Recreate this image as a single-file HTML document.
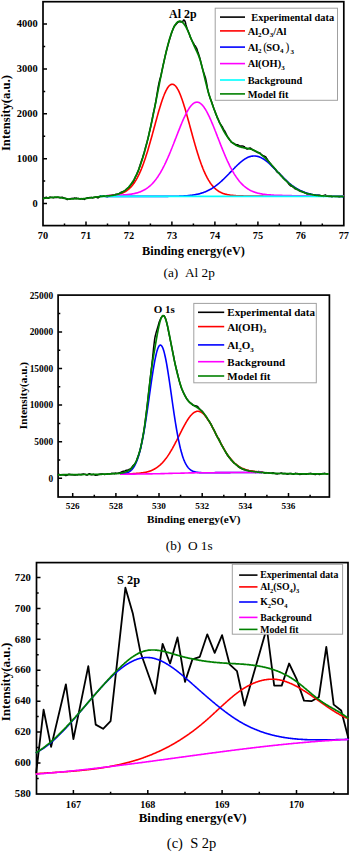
<!DOCTYPE html>
<html><head><meta charset="utf-8"><style>
html,body{margin:0;padding:0;background:#fff;}
body{width:350px;height:853px;overflow:hidden;font-family:"Liberation Serif",serif;}
svg{display:block;}
</style></head><body>
<svg width="350" height="853" viewBox="0 0 350 853">
<rect width="350" height="853" fill="#fff"/>
<g>
<rect x="43.0" y="1.7" width="300.8" height="223.9" fill="none" stroke="#000" stroke-width="1.7"/>
<path d="M43.5 198.4L44.0 198.2L44.5 198.1L45.0 197.6L45.5 197.6L46.0 197.5L46.5 197.3L47.0 198.0L47.5 198.0L48.0 198.2L48.5 198.2L49.0 198.1L49.5 197.3L50.0 197.1L50.5 197.2L51.0 197.2L51.5 197.4L52.0 197.5L52.5 197.6L53.0 197.7L53.5 197.8L54.0 197.5L54.5 197.5L55.0 197.5L55.5 197.5L56.0 197.4L56.5 197.4L57.0 197.5L57.5 197.4L58.0 197.1L58.5 197.4L59.0 197.6L59.5 197.5L60.0 197.9L60.5 197.5L61.0 197.6L61.5 197.4L62.0 197.2L62.5 197.2L63.0 198.0L63.5 197.8L64.0 197.9L64.5 198.3L65.0 198.3L65.5 198.5L66.0 198.8L66.5 199.1L67.0 199.4L67.5 199.5L68.0 199.2L68.5 199.2L69.0 199.3L69.5 199.0L70.0 198.9L70.5 199.1L71.0 198.5L71.5 198.5L72.0 198.6L72.5 198.4L73.0 198.3L73.5 198.5L74.0 198.5L74.5 198.0L75.0 198.1L75.5 198.3L76.0 198.7L76.5 198.1L77.0 198.4L77.5 198.6L78.0 198.4L78.5 198.5L79.0 198.7L79.5 198.8L80.0 198.6L80.5 199.0L81.0 198.7L81.5 198.8L82.0 198.5L82.5 199.0L83.0 198.8L83.5 198.9L84.0 199.1L84.5 199.4L85.0 199.0L85.5 198.6L86.0 198.3L86.5 198.2L87.0 197.9L87.5 197.8L88.0 197.8L88.5 197.9L89.0 197.7L89.5 197.7L90.0 197.4L90.5 197.4L91.0 197.5L91.5 197.5L92.0 197.7L92.5 197.9L93.0 197.9L93.5 197.5L94.0 197.5L94.5 197.2L95.0 197.2L95.5 197.1L96.0 197.1L96.5 197.0L97.0 197.5L97.5 197.7L98.0 197.9L98.5 197.4L99.0 197.3L99.5 196.7L100.0 196.4L100.5 195.7L101.0 196.2L101.5 196.4L102.0 196.3L102.5 195.9L103.0 196.1L103.5 195.9L104.0 195.8L104.5 196.3L105.0 196.4L105.5 196.6L106.0 196.6L106.5 196.7L107.0 196.6L107.5 196.8L108.0 196.4L108.5 196.3L109.0 195.8L109.5 195.9L110.0 195.7L110.5 195.8L111.0 195.7L111.5 195.9L112.0 195.4L112.5 195.0L113.0 195.1L113.5 195.5L114.0 195.3L114.5 195.2L115.0 195.1L115.5 194.6L116.0 194.2L116.5 194.2L117.0 194.2L117.5 194.3L118.0 194.4L118.5 194.2L119.0 193.6L119.5 193.3L120.0 193.0L120.5 192.7L121.0 192.3L121.5 192.2L122.0 192.0L122.5 191.8L123.0 191.6L123.5 191.3L124.0 191.3L124.5 191.1L125.0 190.9L125.5 190.2L126.0 190.0L126.5 189.3L127.0 188.8L127.5 188.2L128.0 188.2L128.5 187.7L129.0 187.3L129.5 187.0L130.0 186.2L130.5 185.3L131.0 184.6L131.5 183.8L132.0 183.2L132.5 182.6L133.0 182.3L133.5 181.3L134.0 180.4L134.5 179.2L135.0 178.2L135.5 176.7L136.0 175.8L136.5 174.8L137.0 173.9L137.5 172.5L138.0 171.7L138.5 170.2L139.0 168.8L139.5 167.0L140.0 165.5L140.5 163.8L141.0 162.4L141.5 160.8L142.0 159.2L142.5 157.9L143.0 156.2L143.5 154.5L144.0 152.9L144.5 151.1L145.0 149.4L145.5 147.4L146.0 145.8L146.5 144.0L147.0 142.6L147.5 140.4L148.0 138.5L148.5 136.4L149.0 134.1L149.5 131.7L150.0 129.5L150.5 127.4L151.0 125.0L151.5 122.7L152.0 120.3L152.5 117.5L153.0 115.1L153.5 112.5L154.0 110.4L154.5 108.2L155.0 105.7L155.5 103.1L156.0 100.5L156.5 97.2L157.0 94.0L157.5 91.2L158.0 88.0L158.5 85.3L159.0 83.0L159.5 80.8L160.0 78.7L160.5 77.2L161.0 75.2L161.5 72.9L162.0 70.4L162.5 68.3L163.0 65.7L163.5 63.6L164.0 61.5L164.5 59.2L165.0 56.8L165.5 54.7L166.0 52.7L166.5 50.5L167.0 48.7L167.5 46.9L168.0 45.0L168.5 43.1L169.0 41.3L169.5 39.7L170.0 38.0L170.5 36.5L171.0 34.4L171.5 33.3L172.0 31.8L172.5 30.5L173.0 29.0L173.5 28.0L174.0 26.7L174.5 26.0L175.0 25.3L175.5 24.9L176.0 24.4L176.5 23.7L177.0 23.2L177.5 22.7L178.0 22.1L178.5 21.9L179.0 21.9L179.5 21.7L180.0 21.5L180.5 21.7L181.0 22.0L181.5 21.7L182.0 21.6L182.5 21.4L183.0 21.1L183.5 20.0L184.0 20.0L184.5 20.5L185.0 21.3L185.5 22.8L186.0 25.0L186.5 26.6L187.0 28.2L187.5 29.6L188.0 30.6L188.5 32.1L189.0 33.2L189.5 34.7L190.0 36.2L190.5 37.7L191.0 38.6L191.5 39.6L192.0 40.4L192.5 41.6L193.0 42.4L193.5 43.1L194.0 44.5L194.5 45.3L195.0 45.6L195.5 46.3L196.0 47.4L196.5 48.0L197.0 49.3L197.5 51.0L198.0 52.6L198.5 53.8L199.0 55.4L199.5 57.0L200.0 58.7L200.5 60.6L201.0 62.8L201.5 64.9L202.0 66.9L202.5 68.6L203.0 70.4L203.5 71.9L204.0 73.5L204.5 75.0L205.0 76.5L205.5 78.0L206.0 80.3L206.5 82.7L207.0 85.6L207.5 88.4L208.0 90.7L208.5 92.9L209.0 94.9L209.5 96.0L210.0 97.7L210.5 99.2L211.0 100.1L211.5 101.6L212.0 103.1L212.5 104.5L213.0 105.9L213.5 107.6L214.0 109.1L214.5 110.3L215.0 111.4L215.5 113.1L216.0 114.6L216.5 115.5L217.0 116.9L217.5 118.2L218.0 118.9L218.5 120.1L219.0 121.3L219.5 122.7L220.0 123.4L220.5 124.2L221.0 125.1L221.5 125.7L222.0 126.2L222.5 127.1L223.0 128.4L223.5 129.1L224.0 130.2L224.5 130.7L225.0 131.6L225.5 132.7L226.0 133.7L226.5 134.6L227.0 135.7L227.5 136.8L228.0 137.3L228.5 137.9L229.0 138.8L229.5 139.7L230.0 140.3L230.5 140.7L231.0 141.8L231.5 142.2L232.0 142.6L232.5 142.7L233.0 143.2L233.5 143.3L234.0 143.4L234.5 143.8L235.0 144.2L235.5 144.6L236.0 144.8L236.5 145.0L237.0 144.6L237.5 144.8L238.0 145.0L238.5 145.2L239.0 145.6L239.5 146.1L240.0 146.2L240.5 146.0L241.0 146.2L241.5 146.1L242.0 146.1L242.5 145.9L243.0 146.1L243.5 146.3L244.0 146.6L244.5 146.8L245.0 147.7L245.5 148.3L246.0 148.4L246.5 148.7L247.0 149.1L247.5 149.0L248.0 148.8L248.5 148.4L249.0 148.4L249.5 148.1L250.0 148.4L250.5 148.1L251.0 148.7L251.5 149.0L252.0 149.3L252.5 149.4L253.0 150.2L253.5 150.5L254.0 150.4L254.5 150.7L255.0 151.0L255.5 151.4L256.0 151.5L256.5 151.9L257.0 152.2L257.5 152.5L258.0 152.4L258.5 152.5L259.0 152.8L259.5 152.9L260.0 153.0L260.5 153.6L261.0 154.3L261.5 154.4L262.0 155.2L262.5 155.3L263.0 155.8L263.5 155.7L264.0 156.0L264.5 156.2L265.0 156.6L265.5 156.7L266.0 157.3L266.5 158.2L267.0 158.8L267.5 159.6L268.0 160.7L268.5 161.4L269.0 161.9L269.5 162.4L270.0 163.2L270.5 163.8L271.0 164.7L271.5 165.3L272.0 166.0L272.5 166.5L273.0 166.8L273.5 167.3L274.0 168.0L274.5 168.5L275.0 168.9L275.5 169.5L276.0 170.3L276.5 171.2L277.0 171.8L277.5 172.4L278.0 172.6L278.5 172.9L279.0 173.0L279.5 173.4L280.0 174.1L280.5 174.8L281.0 175.2L281.5 175.8L282.0 176.3L282.5 176.9L283.0 177.9L283.5 178.2L284.0 178.4L284.5 179.2L285.0 179.6L285.5 179.6L286.0 180.3L286.5 181.0L287.0 181.4L287.5 182.0L288.0 182.7L288.5 183.5L289.0 184.2L289.5 184.8L290.0 185.3L290.5 185.8L291.0 186.0L291.5 186.0L292.0 186.4L292.5 186.6L293.0 187.0L293.5 187.2L294.0 187.9L294.5 188.1L295.0 188.8L295.5 188.8L296.0 189.1L296.5 189.3L297.0 189.5L297.5 189.5L298.0 189.7L298.5 190.1L299.0 190.6L299.5 190.9L300.0 191.1L300.5 191.3L301.0 191.6L301.5 191.3L302.0 191.5L302.5 191.6L303.0 192.0L303.5 192.0L304.0 192.4L304.5 192.5L305.0 192.8L305.5 193.1L306.0 193.3L306.5 193.6L307.0 194.0L307.5 193.9L308.0 193.7L308.5 193.7L309.0 193.8L309.5 193.9L310.0 193.9L310.5 194.3L311.0 194.8L311.5 194.8L312.0 194.9L312.5 195.3L313.0 195.3L313.5 194.8L314.0 195.3L314.5 195.2L315.0 195.4L315.5 195.4L316.0 195.6L316.5 195.4L317.0 195.7L317.5 195.4L318.0 195.3L318.5 195.4L319.0 195.1L319.5 195.3L320.0 195.6L320.5 195.7L321.0 196.0L321.5 196.2L322.0 196.0L322.5 196.2L323.0 196.4L323.5 195.8L324.0 195.4L324.5 195.3L325.0 195.2L325.5 195.0L326.0 195.3L326.5 196.1L327.0 196.1L327.5 196.0L328.0 196.2L328.5 196.4L329.0 196.4L329.5 196.4L330.0 196.5L330.5 196.3L331.0 196.4L331.5 196.8L332.0 196.8L332.5 196.4L333.0 196.4L333.5 196.2L334.0 195.9L334.5 196.3L335.0 196.5L335.5 196.5L336.0 196.6L336.5 196.3L337.0 196.3L337.5 196.4L338.0 196.7L338.5 196.6L339.0 196.9L339.5 196.9L340.0 196.7L340.5 196.6L341.0 196.5L341.5 196.4L342.0 196.5L342.5 196.7L343.0 196.6L343.5 196.6" fill="none" stroke="#000" stroke-width="1.5" stroke-linejoin="round" stroke-linecap="round"/>
<path d="M107.0 195.8L107.5 195.7L108.0 195.7L108.5 195.7L109.0 195.6L109.5 195.6L110.0 195.6L110.5 195.5L111.0 195.5L111.5 195.4L112.0 195.4L112.5 195.3L113.0 195.3L113.5 195.2L114.0 195.2L114.5 195.1L115.0 195.0L115.5 194.9L116.0 194.8L116.5 194.8L117.0 194.7L117.5 194.5L118.0 194.4L118.5 194.3L119.0 194.2L119.5 194.0L120.0 193.9L120.5 193.7L121.0 193.6L121.5 193.4L122.0 193.2L122.5 193.0L123.0 192.8L123.5 192.5L124.0 192.3L124.5 192.0L125.0 191.8L125.5 191.5L126.0 191.2L126.5 190.8L127.0 190.5L127.5 190.1L128.0 189.7L128.5 189.3L129.0 188.9L129.5 188.4L130.0 188.0L130.5 187.5L131.0 186.9L131.5 186.4L132.0 185.8L132.5 185.2L133.0 184.6L133.5 183.9L134.0 183.2L134.5 182.5L135.0 181.7L135.5 180.9L136.0 180.1L136.5 179.2L137.0 178.3L137.5 177.4L138.0 176.4L138.5 175.4L139.0 174.4L139.5 173.3L140.0 172.2L140.5 171.1L141.0 169.9L141.5 168.7L142.0 167.4L142.5 166.1L143.0 164.8L143.5 163.5L144.0 162.1L144.5 160.6L145.0 159.2L145.5 157.7L146.0 156.1L146.5 154.6L147.0 153.0L147.5 151.4L148.0 149.7L148.5 148.0L149.0 146.3L149.5 144.6L150.0 142.8L150.5 141.1L151.0 139.3L151.5 137.5L152.0 135.7L152.5 133.9L153.0 132.0L153.5 130.2L154.0 128.3L154.5 126.5L155.0 124.7L155.5 122.8L156.0 121.0L156.5 119.2L157.0 117.4L157.5 115.6L158.0 113.8L158.5 112.1L159.0 110.3L159.5 108.7L160.0 107.0L160.5 105.4L161.0 103.8L161.5 102.2L162.0 100.7L162.5 99.3L163.0 97.9L163.5 96.5L164.0 95.3L164.5 94.0L165.0 92.9L165.5 91.8L166.0 90.7L166.5 89.8L167.0 88.9L167.5 88.0L168.0 87.3L168.5 86.6L169.0 86.0L169.5 85.5L170.0 85.1L170.5 84.8L171.0 84.5L171.5 84.4L172.0 84.3L172.5 84.3L173.0 84.4L173.5 84.5L174.0 84.8L174.5 85.1L175.0 85.5L175.5 86.0L176.0 86.6L176.5 87.3L177.0 88.0L177.5 88.9L178.0 89.7L178.5 90.7L179.0 91.7L179.5 92.8L180.0 94.0L180.5 95.2L181.0 96.5L181.5 97.9L182.0 99.3L182.5 100.7L183.0 102.2L183.5 103.8L184.0 105.4L184.5 107.0L185.0 108.6L185.5 110.3L186.0 112.0L186.5 113.8L187.0 115.6L187.5 117.4L188.0 119.2L188.5 121.0L189.0 122.8L189.5 124.6L190.0 126.5L190.5 128.3L191.0 130.2L191.5 132.0L192.0 133.8L192.5 135.7L193.0 137.5L193.5 139.3L194.0 141.1L194.5 142.8L195.0 144.6L195.5 146.3L196.0 148.0L196.5 149.7L197.0 151.3L197.5 153.0L198.0 154.6L198.5 156.1L199.0 157.7L199.5 159.2L200.0 160.6L200.5 162.0L201.0 163.4L201.5 164.8L202.0 166.1L202.5 167.4L203.0 168.7L203.5 169.9L204.0 171.1L204.5 172.2L205.0 173.3L205.5 174.4L206.0 175.4L206.5 176.4L207.0 177.4L207.5 178.3L208.0 179.2L208.5 180.1L209.0 180.9L209.5 181.7L210.0 182.5L210.5 183.2L211.0 183.9L211.5 184.5L212.0 185.2L212.5 185.8L213.0 186.4L213.5 186.9L214.0 187.5L214.5 188.0L215.0 188.4L215.5 188.9L216.0 189.3L216.5 189.7L217.0 190.1L217.5 190.5L218.0 190.8L218.5 191.2L219.0 191.5L219.5 191.8L220.0 192.0L220.5 192.3L221.0 192.5L221.5 192.8L222.0 193.0L222.5 193.2L223.0 193.4L223.5 193.6L224.0 193.7L224.5 193.9L225.0 194.0L225.5 194.2L226.0 194.3L226.5 194.4L227.0 194.5L227.5 194.7L228.0 194.8L228.5 194.8L229.0 194.9L229.5 195.0L230.0 195.1L230.5 195.2L231.0 195.2L231.5 195.3L232.0 195.3L232.5 195.4L233.0 195.4L233.5 195.5L234.0 195.5L234.5 195.6L235.0 195.6L235.5 195.6L236.0 195.7L236.5 195.7L237.0 195.7L237.5 195.8L238.0 195.8L238.5 195.8L239.0 195.8L239.5 195.8L240.0 195.9L240.5 195.9L241.0 195.9L241.5 195.9L242.0 195.9L242.5 195.9L243.0 195.9L243.5 196.0L244.0 196.0L244.5 196.0L245.0 196.0L245.5 196.0L246.0 196.0L246.5 196.0L247.0 196.0L247.5 196.0L248.0 196.0L248.5 196.0L249.0 196.0L249.5 196.0L250.0 196.1L250.5 196.1L251.0 196.1L251.5 196.1L252.0 196.1L252.5 196.1L253.0 196.1L253.5 196.1L254.0 196.1L254.5 196.1L255.0 196.1L255.5 196.1L256.0 196.1L256.5 196.1L257.0 196.1L257.5 196.1L258.0 196.1L258.5 196.1L259.0 196.1L259.5 196.1L260.0 196.1L260.5 196.1L261.0 196.1L261.5 196.1L262.0 196.1L262.5 196.1L263.0 196.1L263.5 196.2L264.0 196.2L264.5 196.2L265.0 196.2L265.5 196.2L266.0 196.2L266.5 196.2L267.0 196.2L267.5 196.2L268.0 196.2L268.5 196.2L269.0 196.2L269.5 196.2L270.0 196.2L270.5 196.2L271.0 196.2L271.5 196.2L272.0 196.2L272.5 196.2L273.0 196.2L273.5 196.2L274.0 196.2L274.5 196.2L275.0 196.2L275.5 196.2L276.0 196.2L276.5 196.2L277.0 196.2L277.5 196.2L278.0 196.2L278.5 196.2L279.0 196.2L279.5 196.2L280.0 196.2L280.5 196.2L281.0 196.2L281.5 196.2L282.0 196.2L282.5 196.2L283.0 196.2L283.5 196.2L284.0 196.2L284.5 196.2L285.0 196.2L285.5 196.2L286.0 196.2L286.5 196.2L287.0 196.2L287.5 196.2L288.0 196.2L288.5 196.2L289.0 196.2L289.5 196.2L290.0 196.2L290.5 196.2L291.0 196.2L291.5 196.3L292.0 196.3L292.5 196.3L293.0 196.3L293.5 196.3L294.0 196.3L294.5 196.3L295.0 196.3L295.5 196.3L296.0 196.3L296.5 196.3L297.0 196.3L297.5 196.3L298.0 196.3L298.5 196.3L299.0 196.3L299.5 196.3L300.0 196.3L300.5 196.3L301.0 196.3L301.5 196.3L302.0 196.3L302.5 196.3L303.0 196.3L303.5 196.3L304.0 196.3L304.5 196.3L305.0 196.3L305.5 196.3L306.0 196.3L306.5 196.3L307.0 196.3L307.5 196.3L308.0 196.3L308.5 196.3L309.0 196.3L309.5 196.3L310.0 196.3L310.5 196.3L311.0 196.3L311.5 196.3L312.0 196.3L312.5 196.3L313.0 196.3L313.5 196.3L314.0 196.3L314.5 196.3L315.0 196.3L315.5 196.3L316.0 196.3L316.5 196.3L317.0 196.3L317.5 196.3L318.0 196.3L318.5 196.3L319.0 196.3L319.5 196.3L320.0 196.3L320.5 196.3L321.0 196.3L321.5 196.3L322.0 196.3L322.5 196.3L323.0 196.3L323.5 196.3L324.0 196.3L324.5 196.3L325.0 196.3L325.5 196.3L326.0 196.3L326.5 196.3L327.0 196.3L327.5 196.3L328.0 196.3L328.5 196.3L329.0 196.3L329.5 196.3L330.0 196.3L330.5 196.3L331.0 196.3L331.5 196.3L332.0 196.3L332.5 196.3L333.0 196.3L333.5 196.3L334.0 196.3L334.5 196.3L335.0 196.3L335.5 196.3L336.0 196.3L336.5 196.3L337.0 196.3L337.5 196.3L338.0 196.3L338.5 196.3L339.0 196.3L339.5 196.3L340.0 196.3L340.5 196.3L341.0 196.3L341.5 196.3L342.0 196.3L342.5 196.3L343.0 196.3L343.5 196.3" fill="none" stroke="#ff0000" stroke-width="1.6" stroke-linejoin="round" stroke-linecap="round"/>
<path d="M107.0 196.4L107.5 196.4L108.0 196.4L108.5 196.4L109.0 196.4L109.5 196.4L110.0 196.4L110.5 196.4L111.0 196.4L111.5 196.4L112.0 196.4L112.5 196.4L113.0 196.4L113.5 196.4L114.0 196.4L114.5 196.4L115.0 196.4L115.5 196.4L116.0 196.4L116.5 196.4L117.0 196.4L117.5 196.4L118.0 196.4L118.5 196.4L119.0 196.4L119.5 196.4L120.0 196.4L120.5 196.4L121.0 196.4L121.5 196.4L122.0 196.4L122.5 196.4L123.0 196.4L123.5 196.4L124.0 196.4L124.5 196.4L125.0 196.4L125.5 196.4L126.0 196.4L126.5 196.4L127.0 196.4L127.5 196.4L128.0 196.4L128.5 196.4L129.0 196.4L129.5 196.4L130.0 196.4L130.5 196.4L131.0 196.4L131.5 196.4L132.0 196.4L132.5 196.4L133.0 196.4L133.5 196.4L134.0 196.4L134.5 196.4L135.0 196.4L135.5 196.4L136.0 196.4L136.5 196.4L137.0 196.4L137.5 196.4L138.0 196.4L138.5 196.4L139.0 196.4L139.5 196.4L140.0 196.4L140.5 196.4L141.0 196.4L141.5 196.4L142.0 196.4L142.5 196.4L143.0 196.4L143.5 196.4L144.0 196.4L144.5 196.4L145.0 196.4L145.5 196.4L146.0 196.4L146.5 196.4L147.0 196.4L147.5 196.4L148.0 196.4L148.5 196.4L149.0 196.4L149.5 196.4L150.0 196.4L150.5 196.4L151.0 196.4L151.5 196.4L152.0 196.4L152.5 196.4L153.0 196.4L153.5 196.4L154.0 196.4L154.5 196.4L155.0 196.4L155.5 196.4L156.0 196.4L156.5 196.4L157.0 196.4L157.5 196.4L158.0 196.4L158.5 196.4L159.0 196.4L159.5 196.4L160.0 196.4L160.5 196.4L161.0 196.4L161.5 196.4L162.0 196.4L162.5 196.4L163.0 196.4L163.5 196.4L164.0 196.4L164.5 196.4L165.0 196.4L165.5 196.4L166.0 196.4L166.5 196.4L167.0 196.4L167.5 196.4L168.0 196.4L168.5 196.3L169.0 196.3L169.5 196.3L170.0 196.3L170.5 196.3L171.0 196.3L171.5 196.3L172.0 196.3L172.5 196.3L173.0 196.3L173.5 196.3L174.0 196.3L174.5 196.3L175.0 196.3L175.5 196.3L176.0 196.2L176.5 196.2L177.0 196.2L177.5 196.2L178.0 196.2L178.5 196.2L179.0 196.2L179.5 196.1L180.0 196.1L180.5 196.1L181.0 196.1L181.5 196.1L182.0 196.0L182.5 196.0L183.0 196.0L183.5 196.0L184.0 195.9L184.5 195.9L185.0 195.9L185.5 195.8L186.0 195.8L186.5 195.8L187.0 195.7L187.5 195.7L188.0 195.6L188.5 195.6L189.0 195.5L189.5 195.5L190.0 195.4L190.5 195.4L191.0 195.3L191.5 195.3L192.0 195.2L192.5 195.1L193.0 195.0L193.5 195.0L194.0 194.9L194.5 194.8L195.0 194.7L195.5 194.6L196.0 194.5L196.5 194.4L197.0 194.3L197.5 194.2L198.0 194.1L198.5 194.0L199.0 193.9L199.5 193.7L200.0 193.6L200.5 193.4L201.0 193.3L201.5 193.1L202.0 193.0L202.5 192.8L203.0 192.7L203.5 192.5L204.0 192.3L204.5 192.1L205.0 191.9L205.5 191.7L206.0 191.5L206.5 191.3L207.0 191.0L207.5 190.8L208.0 190.6L208.5 190.3L209.0 190.1L209.5 189.8L210.0 189.5L210.5 189.3L211.0 189.0L211.5 188.7L212.0 188.4L212.5 188.1L213.0 187.7L213.5 187.4L214.0 187.1L214.5 186.7L215.0 186.4L215.5 186.0L216.0 185.6L216.5 185.3L217.0 184.9L217.5 184.5L218.0 184.1L218.5 183.7L219.0 183.3L219.5 182.8L220.0 182.4L220.5 182.0L221.0 181.5L221.5 181.1L222.0 180.6L222.5 180.1L223.0 179.7L223.5 179.2L224.0 178.7L224.5 178.2L225.0 177.7L225.5 177.2L226.0 176.7L226.5 176.2L227.0 175.7L227.5 175.2L228.0 174.7L228.5 174.2L229.0 173.7L229.5 173.1L230.0 172.6L230.5 172.1L231.0 171.6L231.5 171.1L232.0 170.5L232.5 170.0L233.0 169.5L233.5 169.0L234.0 168.5L234.5 168.0L235.0 167.4L235.5 166.9L236.0 166.5L236.5 166.0L237.0 165.5L237.5 165.0L238.0 164.5L238.5 164.1L239.0 163.6L239.5 163.2L240.0 162.7L240.5 162.3L241.0 161.9L241.5 161.5L242.0 161.1L242.5 160.7L243.0 160.3L243.5 159.9L244.0 159.6L244.5 159.3L245.0 158.9L245.5 158.6L246.0 158.4L246.5 158.1L247.0 157.8L247.5 157.6L248.0 157.3L248.5 157.1L249.0 156.9L249.5 156.8L250.0 156.6L250.5 156.5L251.0 156.3L251.5 156.2L252.0 156.1L252.5 156.1L253.0 156.0L253.5 156.0L254.0 156.0L254.5 156.0L255.0 156.0L255.5 156.0L256.0 156.1L256.5 156.2L257.0 156.3L257.5 156.4L258.0 156.5L258.5 156.6L259.0 156.8L259.5 157.0L260.0 157.2L260.5 157.4L261.0 157.6L261.5 157.9L262.0 158.2L262.5 158.4L263.0 158.7L263.5 159.0L264.0 159.4L264.5 159.7L265.0 160.0L265.5 160.4L266.0 160.8L266.5 161.2L267.0 161.6L267.5 162.0L268.0 162.4L268.5 162.8L269.0 163.3L269.5 163.7L270.0 164.2L270.5 164.7L271.0 165.1L271.5 165.6L272.0 166.1L272.5 166.6L273.0 167.1L273.5 167.6L274.0 168.1L274.5 168.6L275.0 169.1L275.5 169.6L276.0 170.2L276.5 170.7L277.0 171.2L277.5 171.7L278.0 172.2L278.5 172.8L279.0 173.3L279.5 173.8L280.0 174.3L280.5 174.8L281.0 175.4L281.5 175.9L282.0 176.4L282.5 176.9L283.0 177.4L283.5 177.9L284.0 178.4L284.5 178.9L285.0 179.3L285.5 179.8L286.0 180.3L286.5 180.7L287.0 181.2L287.5 181.6L288.0 182.1L288.5 182.5L289.0 183.0L289.5 183.4L290.0 183.8L290.5 184.2L291.0 184.6L291.5 185.0L292.0 185.4L292.5 185.7L293.0 186.1L293.5 186.5L294.0 186.8L294.5 187.2L295.0 187.5L295.5 187.8L296.0 188.1L296.5 188.4L297.0 188.8L297.5 189.0L298.0 189.3L298.5 189.6L299.0 189.9L299.5 190.1L300.0 190.4L300.5 190.6L301.0 190.9L301.5 191.1L302.0 191.3L302.5 191.5L303.0 191.8L303.5 192.0L304.0 192.2L304.5 192.3L305.0 192.5L305.5 192.7L306.0 192.9L306.5 193.0L307.0 193.2L307.5 193.3L308.0 193.5L308.5 193.6L309.0 193.8L309.5 193.9L310.0 194.0L310.5 194.1L311.0 194.2L311.5 194.4L312.0 194.5L312.5 194.6L313.0 194.7L313.5 194.7L314.0 194.8L314.5 194.9L315.0 195.0L315.5 195.1L316.0 195.1L316.5 195.2L317.0 195.3L317.5 195.3L318.0 195.4L318.5 195.5L319.0 195.5L319.5 195.6L320.0 195.6L320.5 195.7L321.0 195.7L321.5 195.7L322.0 195.8L322.5 195.8L323.0 195.9L323.5 195.9L324.0 195.9L324.5 195.9L325.0 196.0L325.5 196.0L326.0 196.0L326.5 196.0L327.0 196.1L327.5 196.1L328.0 196.1L328.5 196.1L329.0 196.1L329.5 196.2L330.0 196.2L330.5 196.2L331.0 196.2L331.5 196.2L332.0 196.2L332.5 196.2L333.0 196.3L333.5 196.3L334.0 196.3L334.5 196.3L335.0 196.3L335.5 196.3L336.0 196.3L336.5 196.3L337.0 196.3L337.5 196.3L338.0 196.3L338.5 196.3L339.0 196.3L339.5 196.3L340.0 196.3L340.5 196.4L341.0 196.4L341.5 196.4L342.0 196.4L342.5 196.4L343.0 196.4L343.5 196.4" fill="none" stroke="#0000ff" stroke-width="1.6" stroke-linejoin="round" stroke-linecap="round"/>
<path d="M107.0 195.6L107.5 195.6L108.0 195.5L108.5 195.5L109.0 195.5L109.5 195.5L110.0 195.5L110.5 195.5L111.0 195.5L111.5 195.5L112.0 195.4L112.5 195.4L113.0 195.4L113.5 195.4L114.0 195.4L114.5 195.4L115.0 195.4L115.5 195.3L116.0 195.3L116.5 195.3L117.0 195.3L117.5 195.3L118.0 195.2L118.5 195.2L119.0 195.2L119.5 195.2L120.0 195.2L120.5 195.1L121.0 195.1L121.5 195.1L122.0 195.0L122.5 195.0L123.0 195.0L123.5 194.9L124.0 194.9L124.5 194.9L125.0 194.8L125.5 194.8L126.0 194.7L126.5 194.7L127.0 194.6L127.5 194.6L128.0 194.5L128.5 194.5L129.0 194.4L129.5 194.4L130.0 194.3L130.5 194.2L131.0 194.1L131.5 194.1L132.0 194.0L132.5 193.9L133.0 193.8L133.5 193.7L134.0 193.6L134.5 193.5L135.0 193.4L135.5 193.3L136.0 193.1L136.5 193.0L137.0 192.9L137.5 192.7L138.0 192.6L138.5 192.4L139.0 192.3L139.5 192.1L140.0 191.9L140.5 191.7L141.0 191.5L141.5 191.3L142.0 191.1L142.5 190.8L143.0 190.6L143.5 190.3L144.0 190.1L144.5 189.8L145.0 189.5L145.5 189.2L146.0 188.9L146.5 188.6L147.0 188.2L147.5 187.9L148.0 187.5L148.5 187.1L149.0 186.7L149.5 186.3L150.0 185.9L150.5 185.4L151.0 185.0L151.5 184.5L152.0 184.0L152.5 183.5L153.0 182.9L153.5 182.4L154.0 181.8L154.5 181.2L155.0 180.6L155.5 179.9L156.0 179.3L156.5 178.6L157.0 177.9L157.5 177.2L158.0 176.5L158.5 175.7L159.0 174.9L159.5 174.1L160.0 173.3L160.5 172.5L161.0 171.6L161.5 170.7L162.0 169.8L162.5 168.9L163.0 167.9L163.5 167.0L164.0 166.0L164.5 165.0L165.0 163.9L165.5 162.9L166.0 161.8L166.5 160.7L167.0 159.6L167.5 158.5L168.0 157.4L168.5 156.2L169.0 155.1L169.5 153.9L170.0 152.7L170.5 151.5L171.0 150.2L171.5 149.0L172.0 147.8L172.5 146.5L173.0 145.2L173.5 144.0L174.0 142.7L174.5 141.4L175.0 140.1L175.5 138.8L176.0 137.6L176.5 136.3L177.0 135.0L177.5 133.7L178.0 132.4L178.5 131.1L179.0 129.9L179.5 128.6L180.0 127.4L180.5 126.1L181.0 124.9L181.5 123.7L182.0 122.5L182.5 121.3L183.0 120.2L183.5 119.0L184.0 117.9L184.5 116.9L185.0 115.8L185.5 114.8L186.0 113.8L186.5 112.8L187.0 111.9L187.5 111.0L188.0 110.1L188.5 109.3L189.0 108.5L189.5 107.7L190.0 107.0L190.5 106.4L191.0 105.8L191.5 105.2L192.0 104.7L192.5 104.2L193.0 103.8L193.5 103.4L194.0 103.0L194.5 102.8L195.0 102.5L195.5 102.4L196.0 102.2L196.5 102.2L197.0 102.1L197.5 102.2L198.0 102.3L198.5 102.4L199.0 102.6L199.5 102.8L200.0 103.1L200.5 103.5L201.0 103.9L201.5 104.3L202.0 104.8L202.5 105.4L203.0 105.9L203.5 106.6L204.0 107.2L204.5 108.0L205.0 108.7L205.5 109.5L206.0 110.4L206.5 111.2L207.0 112.2L207.5 113.1L208.0 114.1L208.5 115.1L209.0 116.1L209.5 117.2L210.0 118.3L210.5 119.4L211.0 120.5L211.5 121.7L212.0 122.9L212.5 124.1L213.0 125.3L213.5 126.5L214.0 127.7L214.5 129.0L215.0 130.3L215.5 131.5L216.0 132.8L216.5 134.1L217.0 135.4L217.5 136.7L218.0 137.9L218.5 139.2L219.0 140.5L219.5 141.8L220.0 143.1L220.5 144.4L221.0 145.6L221.5 146.9L222.0 148.1L222.5 149.4L223.0 150.6L223.5 151.8L224.0 153.0L224.5 154.2L225.0 155.4L225.5 156.6L226.0 157.7L226.5 158.9L227.0 160.0L227.5 161.1L228.0 162.1L228.5 163.2L229.0 164.2L229.5 165.3L230.0 166.3L230.5 167.3L231.0 168.2L231.5 169.2L232.0 170.1L232.5 171.0L233.0 171.9L233.5 172.7L234.0 173.6L234.5 174.4L235.0 175.2L235.5 175.9L236.0 176.7L236.5 177.4L237.0 178.1L237.5 178.8L238.0 179.5L238.5 180.1L239.0 180.8L239.5 181.4L240.0 182.0L240.5 182.5L241.0 183.1L241.5 183.6L242.0 184.1L242.5 184.6L243.0 185.1L243.5 185.6L244.0 186.0L244.5 186.4L245.0 186.8L245.5 187.2L246.0 187.6L246.5 188.0L247.0 188.3L247.5 188.7L248.0 189.0L248.5 189.3L249.0 189.6L249.5 189.9L250.0 190.2L250.5 190.4L251.0 190.7L251.5 190.9L252.0 191.1L252.5 191.4L253.0 191.6L253.5 191.8L254.0 192.0L254.5 192.1L255.0 192.3L255.5 192.5L256.0 192.6L256.5 192.8L257.0 192.9L257.5 193.1L258.0 193.2L258.5 193.3L259.0 193.4L259.5 193.5L260.0 193.6L260.5 193.7L261.0 193.8L261.5 193.9L262.0 194.0L262.5 194.1L263.0 194.2L263.5 194.2L264.0 194.3L264.5 194.4L265.0 194.4L265.5 194.5L266.0 194.6L266.5 194.6L267.0 194.7L267.5 194.7L268.0 194.8L268.5 194.8L269.0 194.8L269.5 194.9L270.0 194.9L270.5 194.9L271.0 195.0L271.5 195.0L272.0 195.0L272.5 195.1L273.0 195.1L273.5 195.1L274.0 195.2L274.5 195.2L275.0 195.2L275.5 195.2L276.0 195.2L276.5 195.3L277.0 195.3L277.5 195.3L278.0 195.3L278.5 195.3L279.0 195.4L279.5 195.4L280.0 195.4L280.5 195.4L281.0 195.4L281.5 195.4L282.0 195.4L282.5 195.5L283.0 195.5L283.5 195.5L284.0 195.5L284.5 195.5L285.0 195.5L285.5 195.5L286.0 195.5L286.5 195.6L287.0 195.6L287.5 195.6L288.0 195.6L288.5 195.6L289.0 195.6L289.5 195.6L290.0 195.6L290.5 195.6L291.0 195.6L291.5 195.6L292.0 195.7L292.5 195.7L293.0 195.7L293.5 195.7L294.0 195.7L294.5 195.7L295.0 195.7L295.5 195.7L296.0 195.7L296.5 195.7L297.0 195.7L297.5 195.7L298.0 195.7L298.5 195.7L299.0 195.7L299.5 195.8L300.0 195.8L300.5 195.8L301.0 195.8L301.5 195.8L302.0 195.8L302.5 195.8L303.0 195.8L303.5 195.8L304.0 195.8L304.5 195.8L305.0 195.8L305.5 195.8L306.0 195.8L306.5 195.8L307.0 195.8L307.5 195.8L308.0 195.8L308.5 195.9L309.0 195.9L309.5 195.9L310.0 195.9L310.5 195.9L311.0 195.9L311.5 195.9L312.0 195.9L312.5 195.9L313.0 195.9L313.5 195.9L314.0 195.9L314.5 195.9L315.0 195.9L315.5 195.9L316.0 195.9L316.5 195.9L317.0 195.9L317.5 195.9L318.0 195.9L318.5 195.9L319.0 195.9L319.5 195.9L320.0 195.9L320.5 195.9L321.0 196.0L321.5 196.0L322.0 196.0L322.5 196.0L323.0 196.0L323.5 196.0L324.0 196.0L324.5 196.0L325.0 196.0L325.5 196.0L326.0 196.0L326.5 196.0L327.0 196.0L327.5 196.0L328.0 196.0L328.5 196.0L329.0 196.0L329.5 196.0L330.0 196.0L330.5 196.0L331.0 196.0L331.5 196.0L332.0 196.0L332.5 196.0L333.0 196.0L333.5 196.0L334.0 196.0L334.5 196.0L335.0 196.0L335.5 196.0L336.0 196.0L336.5 196.0L337.0 196.0L337.5 196.0L338.0 196.0L338.5 196.1L339.0 196.1L339.5 196.1L340.0 196.1L340.5 196.1L341.0 196.1L341.5 196.1L342.0 196.1L342.5 196.1L343.0 196.1L343.5 196.1" fill="none" stroke="#ff00ff" stroke-width="1.6" stroke-linejoin="round" stroke-linecap="round"/>
<path d="M100 196.4H342.8" fill="none" stroke="#00ffff" stroke-width="1.6" stroke-linejoin="round" stroke-linecap="round"/>
<path d="M43.5 198.4L44.0 198.3L44.5 198.3L45.0 198.2L45.5 198.2L46.0 198.1L46.5 198.0L47.0 198.0L47.5 197.9L48.0 197.8L48.5 197.8L49.0 197.7L49.5 197.7L50.0 197.6L50.5 197.6L51.0 197.5L51.5 197.5L52.0 197.4L52.5 197.4L53.0 197.3L53.5 197.3L54.0 197.3L54.5 197.2L55.0 197.2L55.5 197.1L56.0 197.1L56.5 197.0L57.0 197.0L57.5 197.1L58.0 197.2L58.5 197.3L59.0 197.4L59.5 197.4L60.0 197.5L60.5 197.6L61.0 197.7L61.5 197.8L62.0 197.9L62.5 198.0L63.0 198.1L63.5 198.2L64.0 198.3L64.5 198.4L65.0 198.4L65.5 198.5L66.0 198.6L66.5 198.7L67.0 198.8L67.5 198.9L68.0 199.0L68.5 199.1L69.0 199.1L69.5 199.0L70.0 199.0L70.5 199.0L71.0 198.9L71.5 198.9L72.0 198.9L72.5 198.9L73.0 198.8L73.5 198.8L74.0 198.8L74.5 198.7L75.0 198.7L75.5 198.7L76.0 198.7L76.5 198.7L77.0 198.7L77.5 198.7L78.0 198.7L78.5 198.7L79.0 198.8L79.5 198.8L80.0 198.8L80.5 198.8L81.0 198.8L81.5 198.8L82.0 198.8L82.5 198.8L83.0 198.8L83.5 198.7L84.0 198.7L84.5 198.6L85.0 198.5L85.5 198.5L86.0 198.4L86.5 198.3L87.0 198.3L87.5 198.2L88.0 198.2L88.5 198.1L89.0 198.0L89.5 198.0L90.0 197.9L90.5 197.8L91.0 197.8L91.5 197.7L92.0 197.6L92.5 197.5L93.0 197.5L93.5 197.4L94.0 197.3L94.5 197.3L95.0 197.2L95.5 197.1L96.0 197.0L96.5 197.0L97.0 196.9L97.5 196.8L98.0 196.8L98.5 196.8L99.0 196.7L99.5 196.7L100.0 196.6L100.5 196.6L101.0 196.5L101.5 196.4L102.0 196.4L102.5 196.3L103.0 196.3L103.5 196.2L104.0 196.2L104.5 196.1L105.0 196.1L105.5 196.0L106.0 196.0L106.5 195.9L107.0 196.0L107.5 195.9L108.0 195.9L108.5 195.9L109.0 195.8L109.5 195.8L110.0 195.7L110.5 195.7L111.0 195.6L111.5 195.5L112.0 195.5L112.5 195.4L113.0 195.3L113.5 195.2L114.0 195.1L114.5 195.0L115.0 194.9L115.5 194.8L116.0 194.7L116.5 194.5L117.0 194.4L117.5 194.2L118.0 194.1L118.5 193.9L119.0 193.7L119.5 193.5L120.0 193.3L120.5 193.1L121.0 192.9L121.5 192.6L122.0 192.4L122.5 192.1L123.0 191.8L123.5 191.5L124.0 191.2L124.5 190.8L125.0 190.5L125.5 190.1L126.0 189.7L126.5 189.2L127.0 188.8L127.5 188.3L128.0 187.8L128.5 187.3L129.0 186.7L129.5 186.1L130.0 185.5L130.5 184.9L131.0 184.2L131.5 183.5L132.0 182.8L132.5 182.0L133.0 181.2L133.5 180.4L134.0 179.6L134.5 178.6L135.0 177.7L135.5 176.7L136.0 175.7L136.5 174.7L137.0 173.6L137.5 172.4L138.0 171.2L138.5 170.0L139.0 168.8L139.5 167.4L140.0 166.1L140.5 164.7L141.0 163.3L141.5 161.8L142.0 160.2L142.5 158.7L143.0 157.0L143.5 155.4L144.0 153.7L144.5 151.9L145.0 150.1L145.5 148.2L146.0 146.4L146.5 144.4L147.0 142.4L147.5 140.4L148.0 138.4L148.5 136.3L149.0 134.1L149.5 131.9L150.0 129.7L150.5 127.5L151.0 125.2L151.5 122.9L152.0 120.5L152.5 118.2L153.0 115.8L153.5 113.4L154.0 110.9L154.5 108.4L155.0 106.0L155.5 103.5L156.0 101.0L156.5 98.4L157.0 95.9L157.5 93.4L158.0 90.8L158.5 88.3L159.0 85.8L159.5 83.2L160.0 80.7L160.5 78.2L161.0 75.8L161.5 73.3L162.0 70.9L162.5 68.4L163.0 66.1L163.5 63.7L164.0 61.4L164.5 59.1L165.0 56.9L165.5 54.7L166.0 52.5L166.5 50.5L167.0 48.4L167.5 46.4L168.0 44.5L168.5 42.7L169.0 40.9L169.5 39.1L170.0 37.5L170.5 35.9L171.0 34.4L171.5 32.9L172.0 31.6L172.5 30.3L173.0 29.1L173.5 28.0L174.0 27.0L174.5 26.0L175.0 25.1L175.5 24.4L176.0 23.7L176.5 23.1L177.0 22.5L177.5 22.1L178.0 21.8L178.5 21.5L179.0 21.3L179.5 21.2L180.0 21.2L180.5 21.3L181.0 21.4L181.5 21.7L182.0 22.0L182.5 22.4L183.0 22.9L183.5 23.4L184.0 24.0L184.5 24.7L185.0 25.4L185.5 26.2L186.0 27.1L186.5 28.0L187.0 29.0L187.5 30.1L188.0 31.1L188.5 32.3L189.0 33.4L189.5 34.6L190.0 35.8L190.5 37.1L191.0 38.3L191.5 39.6L192.0 40.8L192.5 42.0L193.0 43.2L193.5 44.4L194.0 45.5L194.5 46.6L195.0 47.7L195.5 48.8L196.0 49.8L196.5 50.9L197.0 52.0L197.5 53.1L198.0 54.2L198.5 55.4L199.0 56.7L199.5 58.1L200.0 59.6L200.5 61.2L201.0 62.9L201.5 64.8L202.0 66.7L202.5 68.7L203.0 70.8L203.5 72.9L204.0 75.0L204.5 77.1L205.0 79.3L205.5 81.4L206.0 83.4L206.5 85.4L207.0 87.3L207.5 89.2L208.0 91.0L208.5 92.7L209.0 94.4L209.5 96.0L210.0 97.6L210.5 99.1L211.0 100.6L211.5 102.1L212.0 103.5L212.5 104.9L213.0 106.3L213.5 107.7L214.0 109.0L214.5 110.3L215.0 111.6L215.5 112.9L216.0 114.2L216.5 115.4L217.0 116.6L217.5 117.8L218.0 119.0L218.5 120.2L219.0 121.3L219.5 122.4L220.0 123.5L220.5 124.6L221.0 125.7L221.5 126.7L222.0 127.7L222.5 128.7L223.0 129.6L223.5 130.6L224.0 131.5L224.5 132.3L225.0 133.2L225.5 134.0L226.0 134.8L226.5 135.6L227.0 136.3L227.5 137.0L228.0 137.7L228.5 138.4L229.0 139.0L229.5 139.6L230.0 140.2L230.5 140.8L231.0 141.3L231.5 141.8L232.0 142.3L232.5 142.7L233.0 143.1L233.5 143.5L234.0 143.9L234.5 144.3L235.0 144.6L235.5 144.9L236.0 145.2L236.5 145.5L237.0 145.7L237.5 145.9L238.0 146.2L238.5 146.3L239.0 146.5L239.5 146.7L240.0 146.9L240.5 147.0L241.0 147.1L241.5 147.3L242.0 147.4L242.5 147.5L243.0 147.6L243.5 147.7L244.0 147.8L244.5 147.9L245.0 148.0L245.5 148.0L246.0 148.1L246.5 148.2L247.0 148.3L247.5 148.4L248.0 148.5L248.5 148.6L249.0 148.7L249.5 148.8L250.0 149.0L250.5 149.1L251.0 149.2L251.5 149.4L252.0 149.5L252.5 149.7L253.0 149.9L253.5 150.1L254.0 150.3L254.5 150.5L255.0 150.7L255.5 151.0L256.0 151.2L256.5 151.5L257.0 151.8L257.5 152.0L258.0 152.4L258.5 152.7L259.0 153.0L259.5 153.3L260.0 153.7L260.5 154.1L261.0 154.5L261.5 154.8L262.0 155.3L262.5 155.7L263.0 156.1L263.5 156.5L264.0 157.0L264.5 157.5L265.0 157.9L265.5 158.4L266.0 158.9L266.5 159.4L267.0 159.9L267.5 160.4L268.0 161.0L268.5 161.5L269.0 162.0L269.5 162.6L270.0 163.1L270.5 163.7L271.0 164.2L271.5 164.8L272.0 165.4L272.5 165.9L273.0 166.5L273.5 167.1L274.0 167.7L274.5 168.2L275.0 168.8L275.5 169.4L276.0 170.0L276.5 170.6L277.0 171.1L277.5 171.7L278.0 172.3L278.5 172.8L279.0 173.4L279.5 174.0L280.0 174.5L280.5 175.1L281.0 175.6L281.5 176.2L282.0 176.7L282.5 177.2L283.0 177.7L283.5 178.3L284.0 178.8L284.5 179.3L285.0 179.8L285.5 180.3L286.0 180.7L286.5 181.2L287.0 181.7L287.5 182.1L288.0 182.6L288.5 183.0L289.0 183.5L289.5 183.9L290.0 184.3L290.5 184.7L291.0 185.1L291.5 185.5L292.0 185.9L292.5 186.3L293.0 186.6L293.5 187.0L294.0 187.3L294.5 187.7L295.0 188.0L295.5 188.3L296.0 188.6L296.5 188.9L297.0 189.2L297.5 189.5L298.0 189.8L298.5 190.0L299.0 190.3L299.5 190.6L300.0 190.8L300.5 191.0L301.0 191.3L301.5 191.5L302.0 191.7L302.5 191.9L303.0 192.1L303.5 192.3L304.0 192.5L304.5 192.7L305.0 192.8L305.5 193.0L306.0 193.2L306.5 193.3L307.0 193.5L307.5 193.6L308.0 193.7L308.5 193.9L309.0 194.0L309.5 194.1L310.0 194.2L310.5 194.3L311.0 194.4L311.5 194.5L312.0 194.6L312.5 194.7L313.0 194.8L313.5 194.9L314.0 195.0L314.5 195.1L315.0 195.1L315.5 195.2L316.0 195.3L316.5 195.3L317.0 195.4L317.5 195.4L318.0 195.5L318.5 195.6L319.0 195.6L319.5 195.6L320.0 195.7L320.5 195.7L321.0 195.8L321.5 195.8L322.0 195.8L322.5 195.9L323.0 195.9L323.5 195.9L324.0 196.0L324.5 196.0L325.0 196.0L325.5 196.0L326.0 196.1L326.5 196.1L327.0 196.1L327.5 196.1L328.0 196.1L328.5 196.2L329.0 196.2L329.5 196.2L330.0 196.2L330.5 196.2L331.0 196.2L331.5 196.2L332.0 196.3L332.5 196.3L333.0 196.3L333.5 196.3L334.0 196.3L334.5 196.3L335.0 196.3L335.5 196.3L336.0 196.3L336.5 196.3L337.0 196.3L337.5 196.3L338.0 196.3L338.5 196.3L339.0 196.3L339.5 196.4L340.0 196.4L340.5 196.4L341.0 196.4L341.5 196.4L342.0 196.4L342.5 196.4L343.0 196.4L343.5 196.4" fill="none" stroke="#008000" stroke-width="1.7" stroke-linejoin="round" stroke-linecap="round"/>
<text x="43.0" y="238.6" font-size="10.3" font-weight="bold" text-anchor="middle" font-family="Liberation Serif, serif">70</text>
<text x="86.0" y="238.6" font-size="10.3" font-weight="bold" text-anchor="middle" font-family="Liberation Serif, serif">71</text>
<text x="128.9" y="238.6" font-size="10.3" font-weight="bold" text-anchor="middle" font-family="Liberation Serif, serif">72</text>
<text x="171.9" y="238.6" font-size="10.3" font-weight="bold" text-anchor="middle" font-family="Liberation Serif, serif">73</text>
<text x="214.9" y="238.6" font-size="10.3" font-weight="bold" text-anchor="middle" font-family="Liberation Serif, serif">74</text>
<text x="257.9" y="238.6" font-size="10.3" font-weight="bold" text-anchor="middle" font-family="Liberation Serif, serif">75</text>
<text x="300.8" y="238.6" font-size="10.3" font-weight="bold" text-anchor="middle" font-family="Liberation Serif, serif">76</text>
<text x="343.8" y="238.6" font-size="10.3" font-weight="bold" text-anchor="middle" font-family="Liberation Serif, serif">77</text>
<path d="M86.0 225.6V221.6M128.9 225.6V221.6M171.9 225.6V221.6M214.9 225.6V221.6M257.9 225.6V221.6M300.8 225.6V221.6M64.5 225.6V223.4M107.5 225.6V223.4M150.4 225.6V223.4M193.4 225.6V223.4M236.4 225.6V223.4M279.3 225.6V223.4M322.3 225.6V223.4" stroke="#000" stroke-width="1.5" fill="none"/>
<text x="37.6" y="206.8" font-size="10.4" font-weight="bold" text-anchor="end" font-family="Liberation Serif, serif">0</text>
<text x="37.6" y="162.0" font-size="10.4" font-weight="bold" text-anchor="end" font-family="Liberation Serif, serif">1000</text>
<text x="37.6" y="117.1" font-size="10.4" font-weight="bold" text-anchor="end" font-family="Liberation Serif, serif">2000</text>
<text x="37.6" y="72.2" font-size="10.4" font-weight="bold" text-anchor="end" font-family="Liberation Serif, serif">3000</text>
<text x="37.6" y="27.4" font-size="10.4" font-weight="bold" text-anchor="end" font-family="Liberation Serif, serif">4000</text>
<path d="M43.0 203.5H47.0M43.0 158.7H47.0M43.0 113.8H47.0M43.0 68.9H47.0M43.0 24.1H47.0M43.0 181.1H45.2M43.0 136.2H45.2M43.0 91.4H45.2M43.0 46.5H45.2" stroke="#000" stroke-width="1.5" fill="none"/>
<text x="193.5" y="254.7" font-size="12.3" font-weight="bold" text-anchor="middle" font-family="Liberation Serif, serif">Binding energy(eV)</text>
<text x="10.1" y="113.0" font-size="12.7" font-weight="bold" text-anchor="middle" font-family="Liberation Serif, serif" transform="rotate(-90 10.1 113)">Intensity(a.u.)</text>
<text x="182.8" y="17.8" font-size="11.9" font-weight="bold" text-anchor="middle" font-family="Liberation Serif, serif">Al 2p</text>
<rect x="215.2" y="8.2" width="122.3" height="92.1" fill="#fff" stroke="#a0a0a0" stroke-width="1"/>
<path d="M220.0 17.1H245.0" stroke="#000" stroke-width="1.6"/>
<text x="251.3" y="20.7" font-size="10.4" font-weight="bold" text-anchor="start" font-family="Liberation Serif, serif">Experimental data</text>
<path d="M220.0 30.9H245.0" stroke="#ff0000" stroke-width="1.6"/>
<text x="247.7" y="34.5" font-size="10.4" font-weight="bold" text-anchor="start" font-family="Liberation Serif, serif">Al<tspan font-size="7" dy="2.5">2</tspan><tspan dy="-2.5">O</tspan><tspan font-size="7" dy="2.5">3</tspan><tspan dy="-2.5">/Al</tspan></text>
<path d="M220.0 47.1H245.0" stroke="#0000ff" stroke-width="1.6"/>
<text x="247.7" y="50.7" font-size="10.4" font-weight="bold" text-anchor="start" font-family="Liberation Serif, serif">Al<tspan font-size="7" dy="2.5">2</tspan><tspan x="263.2" dy="-2.5" font-weight="normal" font-size="11.5">(</tspan><tspan x="266.2">SO</tspan><tspan font-size="7" dy="2.5">4</tspan><tspan x="285.6" dy="-2.5" font-weight="normal" font-size="11.5">)</tspan><tspan x="290.6" font-size="7" dy="3.5">3</tspan></text>
<path d="M220.0 63.6H245.0" stroke="#ff00ff" stroke-width="1.6"/>
<text x="247.7" y="67.2" font-size="10.4" font-weight="bold" text-anchor="start" font-family="Liberation Serif, serif">Al(OH)<tspan font-size="7" dy="2.5">3</tspan></text>
<path d="M220.0 80.0H245.0" stroke="#00ffff" stroke-width="1.6"/>
<text x="247.7" y="83.6" font-size="10.4" font-weight="bold" text-anchor="start" font-family="Liberation Serif, serif">Background</text>
<path d="M220.0 93.9H245.0" stroke="#008000" stroke-width="1.6"/>
<text x="247.7" y="97.5" font-size="10.4" font-weight="bold" text-anchor="start" font-family="Liberation Serif, serif">Model fit</text>
<text x="189.2" y="277.0" font-size="13.3" font-weight="normal" text-anchor="middle" font-family="Liberation Serif, serif">(a)&#160;&#160;Al 2p</text>
</g>
<g>
<rect x="58.1" y="295.1" width="271.3" height="201.9" fill="none" stroke="#000" stroke-width="1.7"/>
<path d="M58.5 474.6L59.0 474.7L59.5 474.5L60.0 474.8L60.5 474.9L61.0 474.9L61.5 474.6L62.0 474.8L62.5 474.7L63.0 474.4L63.5 474.6L64.0 475.0L64.5 475.0L65.0 475.0L65.5 475.6L66.0 475.6L66.5 475.2L67.0 475.2L67.5 475.1L68.0 474.7L68.5 474.2L69.0 474.4L69.5 474.3L70.0 474.4L70.5 474.4L71.0 474.8L71.5 474.7L72.0 474.6L72.5 474.7L73.0 474.9L73.5 474.7L74.0 475.0L74.5 475.1L75.0 475.0L75.5 475.0L76.0 474.9L76.5 474.8L77.0 474.7L77.5 474.9L78.0 474.5L78.5 474.5L79.0 474.5L79.5 474.6L80.0 474.5L80.5 474.6L81.0 474.8L81.5 474.4L82.0 474.2L82.5 474.2L83.0 474.1L83.5 474.0L84.0 474.1L84.5 474.3L85.0 474.2L85.5 474.6L86.0 474.8L86.5 475.0L87.0 475.0L87.5 475.0L88.0 474.5L88.5 474.3L89.0 473.8L89.5 473.8L90.0 473.9L90.5 474.4L91.0 474.5L91.5 474.7L92.0 474.8L92.5 474.6L93.0 474.5L93.5 474.3L94.0 474.6L94.5 474.9L95.0 475.1L95.5 475.3L96.0 475.3L96.5 475.1L97.0 475.0L97.5 475.1L98.0 474.7L98.5 474.6L99.0 474.5L99.5 474.3L100.0 474.1L100.5 474.2L101.0 474.1L101.5 474.1L102.0 474.1L102.5 474.1L103.0 474.2L103.5 474.3L104.0 474.3L104.5 474.5L105.0 474.4L105.5 474.2L106.0 474.3L106.5 474.2L107.0 473.9L107.5 473.9L108.0 473.7L108.5 473.8L109.0 474.1L109.5 473.9L110.0 473.8L110.5 473.8L111.0 473.6L111.5 473.3L112.0 473.3L112.5 473.4L113.0 473.4L113.5 473.4L114.0 473.3L114.5 473.8L115.0 473.2L115.5 473.1L116.0 473.4L116.5 473.5L117.0 473.2L117.5 473.4L118.0 473.6L118.5 473.0L119.0 472.9L119.5 472.8L120.0 472.7L120.5 472.4L121.0 472.2L121.5 471.9L122.0 471.7L122.5 471.6L123.0 471.3L123.5 471.5L124.0 471.3L124.5 471.1L125.0 470.9L125.5 470.6L126.0 470.5L126.5 470.3L127.0 470.3L127.5 470.2L128.0 470.0L128.5 469.9L129.0 469.5L129.5 469.2L130.0 469.2L130.5 468.8L131.0 468.3L131.5 467.9L132.0 467.3L132.5 466.4L133.0 465.9L133.5 465.2L134.0 464.7L134.5 464.2L135.0 463.6L135.5 462.9L136.0 461.9L136.5 460.8L137.0 459.3L137.5 457.8L138.0 456.3L138.5 455.1L139.0 453.6L139.5 452.0L140.0 450.7L140.5 448.6L141.0 446.2L141.5 443.7L142.0 441.3L142.5 438.4L143.0 436.0L143.5 433.1L144.0 430.0L144.5 426.8L145.0 423.3L145.5 419.0L146.0 415.2L146.5 411.4L147.0 407.3L147.5 403.1L148.0 398.7L148.5 394.0L149.0 389.6L149.5 385.3L150.0 380.7L150.5 376.7L150.9 373.0L151.3 369.2L151.8 365.5L152.1 362.2L152.5 358.9L152.8 355.7L153.2 352.3L153.5 348.8L153.9 345.3L154.3 342.1L154.7 338.9L155.2 336.2L155.8 333.9L156.3 331.9L157.0 329.6L157.6 327.6L158.2 325.6L158.8 323.4L159.4 321.6L160.0 320.2L160.6 318.8L161.1 317.7L162.0 316.8L162.5 316.3L163.0 315.8L163.5 315.7L164.0 315.7L164.5 316.5L165.0 317.2L165.5 318.5L166.0 319.9L166.5 321.9L167.0 324.0L167.5 326.2L168.0 328.7L168.5 331.3L169.0 333.9L169.5 336.1L170.0 338.5L170.5 341.1L171.0 343.6L171.5 345.8L172.0 348.3L172.5 350.9L173.0 353.3L173.5 355.7L174.0 358.5L174.5 361.1L175.0 363.4L175.5 365.5L176.0 367.8L176.5 369.5L177.0 371.5L177.5 373.7L178.0 375.7L178.5 377.6L179.0 379.7L179.5 381.7L180.0 383.5L180.5 385.2L181.0 386.9L181.5 388.2L182.0 389.4L182.5 390.4L183.0 391.7L183.5 392.6L184.0 393.6L184.5 394.6L185.0 395.8L185.5 396.4L186.0 397.3L186.5 398.3L187.0 399.1L187.5 399.6L188.0 400.4L188.5 401.1L189.0 401.8L189.5 402.3L190.0 402.8L190.5 402.9L191.0 403.3L191.5 403.7L192.0 404.0L192.5 404.7L193.0 405.2L193.5 405.3L194.0 405.5L194.5 405.7L195.0 405.7L195.5 405.7L196.0 405.9L196.5 405.9L197.0 406.2L197.5 406.4L198.0 407.1L198.5 407.6L199.0 408.4L199.5 408.9L200.0 409.4L200.5 409.8L201.0 410.3L201.5 410.8L202.0 411.0L202.5 411.5L203.0 412.3L203.5 413.2L204.0 413.6L204.5 414.5L205.0 415.4L205.5 416.1L206.0 416.7L206.5 417.6L207.0 418.3L207.5 419.2L208.0 419.7L208.5 420.6L209.0 421.1L209.5 421.7L210.0 422.4L210.5 423.3L211.0 424.2L211.5 425.1L212.0 426.5L212.5 427.4L213.0 428.3L213.5 429.2L214.0 430.4L214.5 431.1L215.0 432.1L215.5 433.6L216.0 434.7L216.5 435.5L217.0 436.5L217.5 437.5L218.0 438.0L218.5 438.4L219.0 439.3L219.5 440.2L220.0 441.3L220.5 442.5L221.0 443.8L221.5 444.6L222.0 445.8L222.5 446.3L223.0 447.1L223.5 448.1L224.0 449.1L224.5 449.9L225.0 450.9L225.5 452.0L226.0 453.0L226.5 453.6L227.0 454.7L227.5 455.4L228.0 456.2L228.5 456.5L229.0 457.5L229.5 457.8L230.0 458.5L230.5 459.1L231.0 459.9L231.5 460.3L232.0 460.8L232.5 461.4L233.0 461.9L233.5 462.3L234.0 462.9L234.5 463.4L235.0 463.6L235.5 463.8L236.0 464.5L236.5 464.9L237.0 465.3L237.5 465.7L238.0 466.4L238.5 466.8L239.0 467.2L239.5 467.5L240.0 467.8L240.5 468.2L241.0 468.4L241.5 468.5L242.0 468.9L242.5 469.3L243.0 469.3L243.5 469.4L244.0 469.7L244.5 469.6L245.0 469.8L245.5 469.9L246.0 469.9L246.5 470.4L247.0 470.6L247.5 470.6L248.0 470.6L248.5 471.0L249.0 470.9L249.5 471.1L250.0 471.4L250.5 471.4L251.0 471.3L251.5 471.2L252.0 471.2L252.5 471.3L253.0 471.2L253.5 471.8L254.0 471.8L254.5 471.9L255.0 472.0L255.5 472.5L256.0 472.1L256.5 471.9L257.0 471.8L257.5 471.8L258.0 471.6L258.5 471.5L259.0 471.6L259.5 472.0L260.0 472.0L260.5 472.0L261.0 472.2L261.5 472.5L262.0 472.2L262.5 472.2L263.0 472.4L263.5 472.5L264.0 472.8L264.5 473.0L265.0 473.0L265.5 473.0L266.0 472.9L266.5 472.6L267.0 472.8L267.5 472.8L268.0 472.8L268.5 473.1L269.0 473.1L269.5 473.1L270.0 473.2L270.5 473.2L271.0 473.2L271.5 473.3L272.0 473.0L272.5 472.9L273.0 472.8L273.5 472.9L274.0 473.1L274.5 473.3L275.0 473.4L275.5 473.7L276.0 473.7L276.5 473.8L277.0 473.9L277.5 473.9L278.0 473.7L278.5 473.6L279.0 473.6L279.5 473.6L280.0 473.4L280.5 473.2L281.0 472.9L281.5 472.9L282.0 473.1L282.5 473.4L283.0 473.5L283.5 473.5L284.0 473.7L284.5 473.6L285.0 473.3L285.5 473.6L286.0 473.8L286.5 473.9L287.0 473.9L287.5 474.2L288.0 474.1L288.5 474.0L289.0 473.8L289.5 473.6L290.0 473.6L290.5 473.5L291.0 473.4L291.5 473.5L292.0 473.8L292.5 473.9L293.0 474.2L293.5 474.2L294.0 474.0L294.5 473.8L295.0 473.6L295.5 473.2L296.0 473.4L296.5 473.5L297.0 473.5L297.5 473.5L298.0 474.0L298.5 474.0L299.0 474.1L299.5 474.4L300.0 474.4L300.5 474.3L301.0 474.2L301.5 474.3L302.0 474.0L302.5 473.9L303.0 473.9L303.5 473.9L304.0 473.8L304.5 474.0L305.0 474.1L305.5 474.0L306.0 474.2L306.5 474.3L307.0 473.9L307.5 473.7L308.0 473.9L308.5 473.8L309.0 473.4L309.5 473.5L310.0 473.6L310.5 473.3L311.0 473.3L311.5 473.6L312.0 473.9L312.5 473.7L313.0 474.0L313.5 474.2L314.0 474.0L314.5 474.2L315.0 474.5L315.5 474.5L316.0 474.2L316.5 474.1L317.0 473.8L317.5 473.8L318.0 473.8L318.5 474.0L319.0 474.3L319.5 474.6L320.0 474.4L320.5 474.1L321.0 474.0L321.5 473.9L322.0 473.8L322.5 473.6L323.0 473.7L323.5 473.5L324.0 473.4L324.5 473.3L325.0 473.5L325.5 473.6L326.0 473.8L326.5 474.0L327.0 474.0L327.5 474.0L328.0 473.9" fill="none" stroke="#000" stroke-width="1.5" stroke-linejoin="round" stroke-linecap="round"/>
<path d="M121.0 474.0L121.5 474.0L122.0 474.0L122.5 474.0L123.0 473.9L123.5 473.9L124.0 473.9L124.5 473.9L125.0 473.9L125.5 473.9L126.0 473.9L126.5 473.9L127.0 473.8L127.5 473.8L128.0 473.8L128.5 473.8L129.0 473.8L129.5 473.8L130.0 473.8L130.5 473.7L131.0 473.7L131.5 473.7L132.0 473.7L132.5 473.7L133.0 473.6L133.5 473.6L134.0 473.6L134.5 473.6L135.0 473.5L135.5 473.5L136.0 473.5L136.5 473.4L137.0 473.4L137.5 473.3L138.0 473.3L138.5 473.3L139.0 473.2L139.5 473.2L140.0 473.1L140.5 473.1L141.0 473.0L141.5 472.9L142.0 472.9L142.5 472.8L143.0 472.7L143.5 472.6L144.0 472.6L144.5 472.5L145.0 472.4L145.5 472.3L146.0 472.2L146.5 472.1L147.0 471.9L147.5 471.8L148.0 471.7L148.5 471.5L149.0 471.4L149.5 471.2L150.0 471.0L150.5 470.9L151.0 470.7L151.5 470.5L152.0 470.3L152.5 470.0L153.0 469.8L153.5 469.5L154.0 469.3L154.5 469.0L155.0 468.7L155.5 468.4L156.0 468.1L156.5 467.8L157.0 467.4L157.5 467.1L158.0 466.7L158.5 466.3L159.0 465.9L159.5 465.5L160.0 465.1L160.5 464.6L161.0 464.1L161.5 463.7L162.0 463.2L162.5 462.6L163.0 462.1L163.5 461.5L164.0 460.9L164.5 460.3L165.0 459.7L165.5 459.1L166.0 458.4L166.5 457.8L167.0 457.1L167.5 456.4L168.0 455.6L168.5 454.9L169.0 454.1L169.5 453.3L170.0 452.5L170.5 451.7L171.0 450.9L171.5 450.0L172.0 449.1L172.5 448.3L173.0 447.4L173.5 446.5L174.0 445.5L174.5 444.6L175.0 443.7L175.5 442.7L176.0 441.7L176.5 440.8L177.0 439.8L177.5 438.8L178.0 437.8L178.5 436.8L179.0 435.8L179.5 434.8L180.0 433.8L180.5 432.8L181.0 431.8L181.5 430.9L182.0 429.9L182.5 428.9L183.0 428.0L183.5 427.0L184.0 426.1L184.5 425.2L185.0 424.3L185.5 423.4L186.0 422.5L186.5 421.7L187.0 420.8L187.5 420.0L188.0 419.3L188.5 418.5L189.0 417.8L189.5 417.1L190.0 416.5L190.5 415.8L191.0 415.3L191.5 414.7L192.0 414.2L192.5 413.7L193.0 413.3L193.5 412.9L194.0 412.5L194.5 412.2L195.0 412.0L195.5 411.7L196.0 411.6L196.5 411.4L197.0 411.3L197.5 411.3L198.0 411.2L198.5 411.3L199.0 411.4L199.5 411.5L200.0 411.7L200.5 411.9L201.0 412.1L201.5 412.4L202.0 412.7L202.5 413.1L203.0 413.5L203.5 414.0L204.0 414.5L204.5 415.0L205.0 415.6L205.5 416.2L206.0 416.8L206.5 417.5L207.0 418.2L207.5 418.9L208.0 419.6L208.5 420.4L209.0 421.2L209.5 422.0L210.0 422.9L210.5 423.7L211.0 424.6L211.5 425.5L212.0 426.4L212.5 427.4L213.0 428.3L213.5 429.3L214.0 430.2L214.5 431.2L215.0 432.1L215.5 433.1L216.0 434.1L216.5 435.1L217.0 436.0L217.5 437.0L218.0 438.0L218.5 439.0L219.0 439.9L219.5 440.9L220.0 441.8L220.5 442.8L221.0 443.7L221.5 444.6L222.0 445.5L222.5 446.4L223.0 447.3L223.5 448.2L224.0 449.0L224.5 449.9L225.0 450.7L225.5 451.5L226.0 452.3L226.5 453.1L227.0 453.8L227.5 454.6L228.0 455.3L228.5 456.0L229.0 456.7L229.5 457.3L230.0 458.0L230.5 458.6L231.0 459.2L231.5 459.8L232.0 460.4L232.5 460.9L233.0 461.5L233.5 462.0L234.0 462.5L234.5 463.0L235.0 463.4L235.5 463.9L236.0 464.3L236.5 464.7L237.0 465.1L237.5 465.5L238.0 465.8L238.5 466.2L239.0 466.5L239.5 466.8L240.0 467.1L240.5 467.4L241.0 467.7L241.5 467.9L242.0 468.2L242.5 468.4L243.0 468.6L243.5 468.8L244.0 469.0L244.5 469.2L245.0 469.4L245.5 469.6L246.0 469.8L246.5 469.9L247.0 470.1L247.5 470.2L248.0 470.3L248.5 470.4L249.0 470.6L249.5 470.7L250.0 470.8L250.5 470.9L251.0 470.9L251.5 471.0L252.0 471.1L252.5 471.2L253.0 471.2L253.5 471.3L254.0 471.4L254.5 471.4L255.0 471.5L255.5 471.5L256.0 471.6L256.5 471.6L257.0 471.7L257.5 471.7L258.0 471.7L258.5 471.8L259.0 471.8L259.5 471.8L260.0 471.8L260.5 471.9L261.0 471.9L261.5 471.9L262.0 471.9" fill="none" stroke="#ff0000" stroke-width="1.6" stroke-linejoin="round" stroke-linecap="round"/>
<path d="M121.0 474.0L121.5 473.9L122.0 473.9L122.5 473.8L123.0 473.8L123.5 473.7L124.0 473.6L124.5 473.5L125.0 473.4L125.5 473.3L126.0 473.2L126.5 473.0L127.0 472.8L127.5 472.6L128.0 472.4L128.5 472.2L129.0 471.9L129.5 471.6L130.0 471.2L130.5 470.9L131.0 470.4L131.5 470.0L132.0 469.4L132.5 468.9L133.0 468.2L133.5 467.5L134.0 466.8L134.5 465.9L135.0 465.0L135.5 464.0L136.0 463.0L136.5 461.8L137.0 460.5L137.5 459.2L138.0 457.7L138.5 456.2L139.0 454.5L139.5 452.7L140.0 450.8L140.5 448.8L141.0 446.7L141.5 444.4L142.0 442.1L142.5 439.6L143.0 437.0L143.5 434.3L144.0 431.5L144.5 428.5L145.0 425.5L145.5 422.4L146.0 419.2L146.5 415.9L147.0 412.5L147.5 409.1L148.0 405.6L148.5 402.1L149.0 398.6L149.5 395.0L150.0 391.5L150.5 388.0L151.0 384.5L151.5 381.0L152.0 377.7L152.5 374.4L153.0 371.2L153.5 368.1L154.0 365.2L154.5 362.4L155.0 359.7L155.5 357.3L156.0 355.0L156.5 352.9L157.0 351.1L157.5 349.5L158.0 348.1L158.5 347.0L159.0 346.1L159.5 345.5L160.0 345.1L160.5 345.1L161.0 345.2L161.5 345.7L162.0 346.4L162.5 347.3L163.0 348.5L163.5 350.0L164.0 351.6L164.5 353.6L165.0 355.7L165.5 358.0L166.0 360.5L166.5 363.2L167.0 366.0L167.5 369.0L168.0 372.1L168.5 375.3L169.0 378.6L169.5 382.0L170.0 385.4L170.5 388.9L171.0 392.4L171.5 395.9L172.0 399.5L172.5 403.0L173.0 406.5L173.5 409.9L174.0 413.3L174.5 416.6L175.0 419.8L175.5 423.0L176.0 426.0L176.5 429.0L177.0 431.9L177.5 434.6L178.0 437.3L178.5 439.8L179.0 442.2L179.5 444.5L180.0 446.7L180.5 448.8L181.0 450.7L181.5 452.6L182.0 454.3L182.5 455.9L183.0 457.4L183.5 458.8L184.0 460.1L184.5 461.3L185.0 462.4L185.5 463.4L186.0 464.3L186.5 465.2L187.0 466.0L187.5 466.7L188.0 467.4L188.5 468.0L189.0 468.5L189.5 469.0L190.0 469.4L190.5 469.8L191.0 470.2L191.5 470.5L192.0 470.8L192.5 471.0L193.0 471.3L193.5 471.5L194.0 471.6L194.5 471.8L195.0 471.9L195.5 472.0L196.0 472.1L196.5 472.2L197.0 472.3L197.5 472.4L198.0 472.4L198.5 472.5L199.0 472.5L199.5 472.6L200.0 472.6L200.5 472.6L201.0 472.6L201.5 472.7L202.0 472.7L202.5 472.7L203.0 472.7L203.5 472.7L204.0 472.7L204.5 472.7L205.0 472.7L205.5 472.7L206.0 472.7L206.5 472.7L207.0 472.7L207.5 472.7L208.0 472.7L208.5 472.7L209.0 472.7L209.5 472.7L210.0 472.7L210.5 472.7L211.0 472.7L211.5 472.7L212.0 472.7L212.5 472.7L213.0 472.7L213.5 472.7L214.0 472.7L214.5 472.7L215.0 472.6L215.5 472.6L216.0 472.6L216.5 472.6L217.0 472.6L217.5 472.6L218.0 472.6L218.5 472.6L219.0 472.6L219.5 472.6L220.0 472.6L220.5 472.6L221.0 472.6L221.5 472.6L222.0 472.6L222.5 472.6L223.0 472.6L223.5 472.6L224.0 472.6L224.5 472.6L225.0 472.6L225.5 472.6L226.0 472.6L226.5 472.6L227.0 472.6L227.5 472.6L228.0 472.6L228.5 472.6L229.0 472.6L229.5 472.6L230.0 472.6L230.5 472.5L231.0 472.5L231.5 472.5L232.0 472.5L232.5 472.5L233.0 472.5L233.5 472.5L234.0 472.5L234.5 472.5L235.0 472.5L235.5 472.5L236.0 472.5L236.5 472.5L237.0 472.5L237.5 472.5L238.0 472.5L238.5 472.5L239.0 472.5L239.5 472.5L240.0 472.5L240.5 472.5L241.0 472.5L241.5 472.5L242.0 472.5L242.5 472.5L243.0 472.5L243.5 472.5L244.0 472.5L244.5 472.5L245.0 472.5L245.5 472.5L246.0 472.5L246.5 472.5L247.0 472.5L247.5 472.5L248.0 472.5L248.5 472.5L249.0 472.5L249.5 472.5L250.0 472.5L250.5 472.5L251.0 472.5L251.5 472.4L252.0 472.4L252.5 472.4L253.0 472.4L253.5 472.4L254.0 472.4L254.5 472.4L255.0 472.4L255.5 472.4L256.0 472.4L256.5 472.4L257.0 472.4L257.5 472.4L258.0 472.4L258.5 472.4L259.0 472.4L259.5 472.4L260.0 472.4L260.5 472.4L261.0 472.4L261.5 472.4L262.0 472.4" fill="none" stroke="#0000ff" stroke-width="1.6" stroke-linejoin="round" stroke-linecap="round"/>
<path d="M121.0 474.2L122.0 474.2L123.0 474.2L124.0 474.2L125.0 474.2L126.0 474.2L127.0 474.1L128.0 474.1L129.0 474.1L130.0 474.1L131.0 474.1L132.0 474.1L133.0 474.1L134.0 474.1L135.0 474.1L136.0 474.0L137.0 474.0L138.0 474.0L139.0 474.0L140.0 474.0L141.0 474.0L142.0 474.0L143.0 474.0L144.0 474.0L145.0 474.0L146.0 473.9L147.0 473.9L148.0 473.9L149.0 473.9L150.0 473.9L151.0 473.9L152.0 473.9L153.0 473.8L154.0 473.8L155.0 473.8L156.0 473.8L157.0 473.7L158.0 473.7L159.0 473.7L160.0 473.7L161.0 473.6L162.0 473.6L163.0 473.6L164.0 473.6L165.0 473.5L166.0 473.5L167.0 473.5L168.0 473.5L169.0 473.4L170.0 473.4L171.0 473.4L172.0 473.4L173.0 473.3L174.0 473.3L175.0 473.3L176.0 473.3L177.0 473.2L178.0 473.2L179.0 473.2L180.0 473.2L181.0 473.1L182.0 473.1L183.0 473.1L184.0 473.1L185.0 473.0L186.0 473.0L187.0 473.0L188.0 473.0L189.0 472.9L190.0 472.9L191.0 472.9L192.0 472.9L193.0 472.9L194.0 472.9L195.0 472.8L196.0 472.8L197.0 472.8L198.0 472.8L199.0 472.8L200.0 472.8L201.0 472.8L202.0 472.8L203.0 472.8L204.0 472.8L205.0 472.8L206.0 472.7L207.0 472.7L208.0 472.7L209.0 472.7L210.0 472.7L211.0 472.7L212.0 472.7L213.0 472.7L214.0 472.7L215.0 472.7L216.0 472.6L217.0 472.6L218.0 472.6L219.0 472.6L220.0 472.6L221.0 472.6L222.0 472.6L223.0 472.6L224.0 472.6L225.0 472.6L226.0 472.6L227.0 472.6L228.0 472.6L229.0 472.6L230.0 472.6L231.0 472.5L232.0 472.5L233.0 472.5L234.0 472.5L235.0 472.5L236.0 472.5L237.0 472.5L238.0 472.5L239.0 472.5L240.0 472.5L241.0 472.5L242.0 472.5L243.0 472.5L244.0 472.5L245.0 472.5L246.0 472.5L247.0 472.5L248.0 472.5L249.0 472.5L250.0 472.5L251.0 472.5L252.0 472.4L253.0 472.4L254.0 472.4L255.0 472.4L256.0 472.4L257.0 472.4L258.0 472.4L259.0 472.4L260.0 472.4L261.0 472.4L262.0 472.4" fill="none" stroke="#ff00ff" stroke-width="1.6" stroke-linejoin="round" stroke-linecap="round"/>
<path d="M58.5 474.8L59.0 474.8L59.5 474.8L60.0 474.8L60.5 474.8L61.0 474.8L61.5 474.8L62.0 474.8L62.5 474.8L63.0 474.8L63.5 474.8L64.0 474.7L64.5 474.7L65.0 474.7L65.5 474.7L66.0 474.7L66.5 474.7L67.0 474.7L67.5 474.7L68.0 474.7L68.5 474.7L69.0 474.7L69.5 474.7L70.0 474.7L70.5 474.7L71.0 474.7L71.5 474.7L72.0 474.7L72.5 474.7L73.0 474.7L73.5 474.7L74.0 474.7L74.5 474.7L75.0 474.6L75.5 474.6L76.0 474.6L76.5 474.6L77.0 474.6L77.5 474.6L78.0 474.6L78.5 474.6L79.0 474.6L79.5 474.6L80.0 474.6L80.5 474.6L81.0 474.6L81.5 474.6L82.0 474.6L82.5 474.6L83.0 474.6L83.5 474.5L84.0 474.5L84.5 474.5L85.0 474.5L85.5 474.5L86.0 474.5L86.5 474.5L87.0 474.5L87.5 474.5L88.0 474.5L88.5 474.5L89.0 474.5L89.5 474.5L90.0 474.5L90.5 474.4L91.0 474.4L91.5 474.4L92.0 474.4L92.5 474.4L93.0 474.4L93.5 474.4L94.0 474.4L94.5 474.4L95.0 474.4L95.5 474.4L96.0 474.4L96.5 474.4L97.0 474.3L97.5 474.3L98.0 474.3L98.5 474.3L99.0 474.3L99.5 474.3L100.0 474.3L100.5 474.3L101.0 474.3L101.5 474.3L102.0 474.2L102.5 474.2L103.0 474.2L103.5 474.2L104.0 474.2L104.5 474.2L105.0 474.2L105.5 474.2L106.0 474.2L106.5 474.1L107.0 474.1L107.5 474.1L108.0 473.9L108.5 473.9L109.0 473.8L109.5 473.8L110.0 473.8L110.5 473.8L111.0 473.8L111.5 473.8L112.0 473.8L112.5 473.7L113.0 473.7L113.5 473.7L114.0 473.7L114.5 473.7L115.0 473.6L115.5 473.6L116.0 473.6L116.5 473.5L117.0 473.5L117.5 473.5L118.0 473.4L118.5 473.4L119.0 473.3L119.5 473.3L120.0 473.2L120.5 473.2L121.0 473.1L121.5 473.0L122.0 472.9L122.5 472.8L123.0 472.7L123.5 472.6L124.0 472.5L124.5 472.3L125.0 472.2L125.5 472.0L126.0 471.8L126.5 471.6L127.0 471.4L127.5 471.2L128.0 470.9L128.5 470.6L129.0 470.3L129.5 470.0L130.0 469.6L130.5 469.2L131.0 468.8L131.5 468.3L132.0 467.7L132.5 467.2L133.0 466.5L133.5 465.9L134.0 465.1L134.5 464.4L135.0 463.5L135.5 462.6L136.0 461.6L136.5 460.5L137.0 459.3L137.5 458.1L138.0 456.7L138.5 455.3L139.0 453.7L139.5 452.0L140.0 450.2L140.5 448.2L141.0 446.1L141.5 443.9L142.0 441.5L142.5 438.9L143.0 436.2L143.5 433.2L144.0 430.1L144.5 426.8L145.0 423.3L145.5 419.6L146.0 415.7L146.5 411.6L147.0 407.4L147.5 403.1L148.0 398.6L148.5 394.2L149.0 389.7L149.5 385.3L150.0 381.0L150.5 376.8L151.0 372.9L151.5 369.2L152.0 365.7L152.5 362.4L153.0 359.2L153.5 356.2L154.0 353.2L154.5 350.3L155.0 347.3L155.5 344.4L156.0 341.6L156.5 338.7L157.0 335.9L157.5 333.2L158.0 330.6L158.5 328.1L159.0 325.7L159.5 323.6L160.0 321.6L160.5 319.9L161.0 318.5L161.5 317.3L162.0 316.4L162.5 315.9L163.0 315.6L163.5 315.7L164.0 316.0L164.5 316.7L165.0 317.6L165.5 318.9L166.0 320.3L166.5 322.0L167.0 323.9L167.5 325.9L168.0 328.2L168.5 330.5L169.0 333.0L169.5 335.5L170.0 338.1L170.5 340.7L171.0 343.3L171.5 346.0L172.0 348.6L172.5 351.2L173.0 353.8L173.5 356.3L174.0 358.8L174.5 361.2L175.0 363.5L175.5 365.8L176.0 368.0L176.5 370.2L177.0 372.3L177.5 374.3L178.0 376.2L178.5 378.1L179.0 379.9L179.5 381.6L180.0 383.2L180.5 384.8L181.0 386.3L181.5 387.7L182.0 389.1L182.5 390.4L183.0 391.6L183.5 392.8L184.0 393.9L184.5 394.9L185.0 395.9L185.5 396.8L186.0 397.7L186.5 398.5L187.0 399.2L187.5 399.9L188.0 400.6L188.5 401.1L189.0 401.7L189.5 402.2L190.0 402.7L190.5 403.1L191.0 403.6L191.5 403.9L192.0 404.3L192.5 404.7L193.0 405.0L193.5 405.3L194.0 405.6L194.5 405.9L195.0 406.2L195.5 406.5L196.0 406.8L196.5 407.1L197.0 407.4L197.5 407.8L198.0 408.1L198.5 408.5L199.0 408.8L199.5 409.2L200.0 409.6L200.5 410.0L201.0 410.5L201.5 411.0L202.0 411.5L202.5 412.0L203.0 412.5L203.5 413.1L204.0 413.7L204.5 414.3L205.0 415.0L205.5 415.6L206.0 416.3L206.5 417.1L207.0 417.8L207.5 418.6L208.0 419.4L208.5 420.2L209.0 421.0L209.5 421.9L210.0 422.7L210.5 423.6L211.0 424.5L211.5 425.4L212.0 426.4L212.5 427.3L213.0 428.3L213.5 429.2L214.0 430.2L214.5 431.2L215.0 432.2L215.5 433.1L216.0 434.1L216.5 435.1L217.0 436.1L217.5 437.1L218.0 438.1L218.5 439.0L219.0 440.0L219.5 441.0L220.0 441.9L220.5 442.9L221.0 443.8L221.5 444.8L222.0 445.7L222.5 446.6L223.0 447.5L223.5 448.4L224.0 449.2L224.5 450.1L225.0 450.9L225.5 451.7L226.0 452.5L226.5 453.3L227.0 454.1L227.5 454.8L228.0 455.5L228.5 456.3L229.0 456.9L229.5 457.6L230.0 458.3L230.5 458.9L231.0 459.5L231.5 460.1L232.0 460.7L232.5 461.2L233.0 461.8L233.5 462.3L234.0 462.8L234.5 463.3L235.0 463.7L235.5 464.2L236.0 464.6L236.5 465.0L237.0 465.4L237.5 465.8L238.0 466.1L238.5 466.5L239.0 466.8L239.5 467.1L240.0 467.4L240.5 467.7L241.0 468.0L241.5 468.3L242.0 468.5L242.5 468.7L243.0 469.0L243.5 469.2L244.0 469.4L244.5 469.6L245.0 469.7L245.5 469.9L246.0 470.1L246.5 470.2L247.0 470.4L247.5 470.5L248.0 470.6L248.5 470.7L249.0 470.9L249.5 471.0L250.0 471.1L250.5 471.2L251.0 471.2L251.5 471.3L252.0 471.4L252.5 471.5L253.0 471.5L253.5 471.6L254.0 471.7L254.5 471.7L255.0 471.8L255.5 471.8L256.0 471.9L256.5 471.9L257.0 472.0L257.5 472.1L258.0 472.1L258.5 472.2L259.0 472.2L259.5 472.3L260.0 472.3L260.5 472.3L261.0 472.4L261.5 472.4L262.0 472.5L262.5 472.5L263.0 472.6L263.5 472.6L264.0 472.6L264.5 472.7L265.0 472.7L265.5 472.8L266.0 472.8L266.5 472.9L267.0 472.9L267.5 472.9L268.0 473.0L268.5 473.0L269.0 473.0L269.5 473.1L270.0 473.1L270.5 473.2L271.0 473.2L271.5 473.2L272.0 473.3L272.5 473.3L273.0 473.3L273.5 473.3L274.0 473.4L274.5 473.4L275.0 473.4L275.5 473.4L276.0 473.4L276.5 473.4L277.0 473.4L277.5 473.4L278.0 473.5L278.5 473.5L279.0 473.5L279.5 473.5L280.0 473.5L280.5 473.5L281.0 473.5L281.5 473.5L282.0 473.6L282.5 473.6L283.0 473.6L283.5 473.6L284.0 473.6L284.5 473.6L285.0 473.6L285.5 473.6L286.0 473.6L286.5 473.7L287.0 473.7L287.5 473.7L288.0 473.7L288.5 473.7L289.0 473.7L289.5 473.7L290.0 473.7L290.5 473.7L291.0 473.8L291.5 473.8L292.0 473.8L292.5 473.8L293.0 473.8L293.5 473.8L294.0 473.8L294.5 473.8L295.0 473.8L295.5 473.9L296.0 473.9L296.5 473.9L297.0 473.9L297.5 473.9L298.0 473.9L298.5 473.9L299.0 473.9L299.5 473.9L300.0 473.9L300.5 473.9L301.0 473.9L301.5 473.9L302.0 473.9L302.5 473.9L303.0 473.9L303.5 473.9L304.0 473.9L304.5 473.9L305.0 473.9L305.5 473.9L306.0 473.9L306.5 473.9L307.0 473.9L307.5 473.9L308.0 473.9L308.5 473.9L309.0 473.9L309.5 473.9L310.0 473.9L310.5 473.9L311.0 473.9L311.5 473.9L312.0 473.9L312.5 473.9L313.0 473.9L313.5 473.9L314.0 473.9L314.5 473.9L315.0 473.9L315.5 473.9L316.0 473.9L316.5 473.9L317.0 473.9L317.5 473.9L318.0 473.9L318.5 473.9L319.0 473.9L319.5 473.9L320.0 473.9L320.5 473.9L321.0 473.9L321.5 473.9L322.0 473.9L322.5 473.9L323.0 473.9L323.5 473.9L324.0 473.9L324.5 473.9L325.0 473.9L325.5 473.9L326.0 473.9L326.5 473.9L327.0 473.9L327.5 473.9L328.0 473.9" fill="none" stroke="#008000" stroke-width="1.7" stroke-linejoin="round" stroke-linecap="round"/>
<text x="72.7" y="509.2" font-size="9.2" font-weight="bold" text-anchor="middle" font-family="Liberation Serif, serif">526</text>
<text x="115.9" y="509.2" font-size="9.2" font-weight="bold" text-anchor="middle" font-family="Liberation Serif, serif">528</text>
<text x="159.0" y="509.2" font-size="9.2" font-weight="bold" text-anchor="middle" font-family="Liberation Serif, serif">530</text>
<text x="202.2" y="509.2" font-size="9.2" font-weight="bold" text-anchor="middle" font-family="Liberation Serif, serif">532</text>
<text x="245.3" y="509.2" font-size="9.2" font-weight="bold" text-anchor="middle" font-family="Liberation Serif, serif">534</text>
<text x="288.5" y="509.2" font-size="9.2" font-weight="bold" text-anchor="middle" font-family="Liberation Serif, serif">536</text>
<path d="M72.7 497.0V493.0M115.9 497.0V493.0M159.0 497.0V493.0M202.2 497.0V493.0M245.3 497.0V493.0M288.5 497.0V493.0M94.3 497.0V494.8M137.4 497.0V494.8M180.6 497.0V494.8M223.8 497.0V494.8M266.9 497.0V494.8M310.1 497.0V494.8" stroke="#000" stroke-width="1.5" fill="none"/>
<text x="53.1" y="481.5" font-size="9.4" font-weight="bold" text-anchor="end" font-family="Liberation Serif, serif">0</text>
<text x="53.1" y="444.9" font-size="9.4" font-weight="bold" text-anchor="end" font-family="Liberation Serif, serif">5000</text>
<text x="53.1" y="408.3" font-size="9.4" font-weight="bold" text-anchor="end" font-family="Liberation Serif, serif">10000</text>
<text x="53.1" y="371.7" font-size="9.4" font-weight="bold" text-anchor="end" font-family="Liberation Serif, serif">15000</text>
<text x="53.1" y="335.1" font-size="9.4" font-weight="bold" text-anchor="end" font-family="Liberation Serif, serif">20000</text>
<text x="53.1" y="298.5" font-size="9.4" font-weight="bold" text-anchor="end" font-family="Liberation Serif, serif">25000</text>
<path d="M58.1 478.3H62.1M58.1 441.7H62.1M58.1 405.1H62.1M58.1 368.5H62.1M58.1 331.9H62.1M58.1 460.0H60.3M58.1 423.4H60.3M58.1 386.8H60.3M58.1 350.2H60.3M58.1 313.6H60.3" stroke="#000" stroke-width="1.5" fill="none"/>
<text x="193.7" y="523.1" font-size="11.2" font-weight="bold" text-anchor="middle" font-family="Liberation Serif, serif">Binding energy(eV)</text>
<text x="27.5" y="395.6" font-size="11.2" font-weight="bold" text-anchor="middle" font-family="Liberation Serif, serif" transform="rotate(-90 27.5 395.6)">Intensity(a.u.)</text>
<text x="164.3" y="312.7" font-size="11.0" font-weight="bold" text-anchor="middle" font-family="Liberation Serif, serif">O 1s</text>
<rect x="193.8" y="303.4" width="122.5" height="79.4" fill="#fff" stroke="#a0a0a0" stroke-width="1"/>
<path d="M198.0 312.3H224.2" stroke="#000" stroke-width="1.6"/>
<text x="227.3" y="316.4" font-size="11.0" font-weight="bold" text-anchor="start" font-family="Liberation Serif, serif">Experimental data</text>
<path d="M198.0 326.6H224.2" stroke="#ff0000" stroke-width="1.6"/>
<text x="227.3" y="330.7" font-size="11.0" font-weight="bold" text-anchor="start" font-family="Liberation Serif, serif">Al(OH)<tspan font-size="7" dy="2.5">3</tspan></text>
<path d="M198.0 344.9H224.2" stroke="#0000ff" stroke-width="1.6"/>
<text x="227.3" y="349.0" font-size="11.0" font-weight="bold" text-anchor="start" font-family="Liberation Serif, serif">Al<tspan font-size="7" dy="2.5">2</tspan><tspan dy="-2.5">O</tspan><tspan font-size="7" dy="2.5">3</tspan></text>
<path d="M198.0 361.7H224.2" stroke="#ff00ff" stroke-width="1.6"/>
<text x="227.3" y="365.8" font-size="11.0" font-weight="bold" text-anchor="start" font-family="Liberation Serif, serif">Background</text>
<path d="M198.0 376.0H224.2" stroke="#008000" stroke-width="1.6"/>
<text x="227.3" y="380.1" font-size="11.0" font-weight="bold" text-anchor="start" font-family="Liberation Serif, serif">Model fit</text>
<text x="189.2" y="549.9" font-size="13.3" font-weight="normal" text-anchor="middle" font-family="Liberation Serif, serif">(b)&#160;&#160;O 1s</text>
</g>
<g>
<rect x="36.5" y="562.6" width="311.5" height="231.4" fill="none" stroke="#000" stroke-width="1.7"/>
<path d="M36.2 772.5L43.6 709.7L51.1 746.9L65.9 684.3L73.4 739.1L88.3 666.1L95.7 724.6L103.1 728.8L110.6 721.2L125.4 587.7L132.9 613.8L140.3 651.7L155.2 693.7L162.6 643.8L170.1 663.5L177.5 637.4L185.0 681.9L192.4 659.4L199.8 656.8L207.3 634.3L214.7 652.9L222.1 635.1L229.6 664.3L237.0 671.2L244.5 705.5L266.8 628.0L274.2 685.6L281.7 685.6L289.1 663.5L296.5 678.9L304.0 700.6L311.4 701.2L318.9 697.0L326.3 646.9L333.7 704.6L341.2 710.5L348.3 738.0" fill="none" stroke="#000" stroke-width="1.8" stroke-linejoin="round" stroke-linecap="round"/>
<path d="M36.4 773.7L36.9 773.7L37.4 773.6L37.9 773.6L38.4 773.6L38.9 773.5L39.4 773.5L39.9 773.4L40.4 773.4L40.9 773.4L41.4 773.3L41.9 773.3L42.4 773.3L42.9 773.2L43.4 773.2L43.9 773.2L44.4 773.1L44.9 773.1L45.4 773.1L45.9 773.0L46.4 773.0L46.9 773.0L47.4 772.9L47.9 772.9L48.4 772.9L48.9 772.8L49.4 772.8L49.9 772.8L50.4 772.7L50.9 772.7L51.4 772.7L51.9 772.7L52.4 772.6L52.9 772.6L53.4 772.6L53.9 772.5L54.4 772.5L54.9 772.5L55.4 772.4L55.9 772.4L56.4 772.4L56.9 772.3L57.4 772.3L57.9 772.3L58.4 772.2L58.9 772.2L59.4 772.2L59.9 772.1L60.4 772.1L60.9 772.1L61.4 772.0L61.9 772.0L62.4 771.9L62.9 771.9L63.4 771.9L63.9 771.8L64.4 771.8L64.9 771.8L65.4 771.7L65.9 771.7L66.4 771.7L66.9 771.6L67.4 771.6L67.9 771.5L68.4 771.5L68.9 771.5L69.4 771.4L69.9 771.4L70.4 771.4L70.9 771.3L71.4 771.3L71.9 771.2L72.4 771.2L72.9 771.2L73.4 771.1L73.9 771.1L74.4 771.0L74.9 771.0L75.4 770.9L75.9 770.9L76.4 770.9L76.9 770.8L77.4 770.8L77.9 770.7L78.4 770.7L78.9 770.6L79.4 770.6L79.9 770.5L80.4 770.5L80.9 770.4L81.4 770.4L81.9 770.3L82.4 770.3L82.9 770.2L83.4 770.2L83.9 770.1L84.4 770.1L84.9 770.0L85.4 770.0L85.9 769.9L86.4 769.9L86.9 769.8L87.4 769.8L87.9 769.7L88.4 769.7L88.9 769.6L89.4 769.5L89.9 769.5L90.4 769.4L90.9 769.4L91.4 769.3L91.9 769.2L92.4 769.2L92.9 769.1L93.4 769.1L93.9 769.0L94.4 768.9L94.9 768.9L95.4 768.8L95.9 768.7L96.4 768.7L96.9 768.6L97.4 768.5L97.9 768.5L98.4 768.4L98.9 768.3L99.4 768.2L99.9 768.2L100.4 768.1L100.9 768.0L101.4 767.9L101.9 767.9L102.4 767.8L102.9 767.7L103.4 767.6L103.9 767.5L104.4 767.5L104.9 767.4L105.4 767.3L105.9 767.2L106.4 767.1L106.9 767.0L107.4 767.0L107.9 766.9L108.4 766.8L108.9 766.7L109.4 766.6L109.9 766.5L110.4 766.4L110.9 766.3L111.4 766.2L111.9 766.1L112.4 766.0L112.9 765.9L113.4 765.8L113.9 765.7L114.4 765.6L114.9 765.5L115.4 765.4L115.9 765.3L116.4 765.2L116.9 765.1L117.4 765.0L117.9 764.9L118.4 764.8L118.9 764.7L119.4 764.6L119.9 764.5L120.4 764.4L120.9 764.2L121.4 764.1L121.9 764.0L122.4 763.9L122.9 763.8L123.4 763.6L123.9 763.5L124.4 763.4L124.9 763.3L125.4 763.1L125.9 763.0L126.4 762.9L126.9 762.8L127.4 762.6L127.9 762.5L128.4 762.4L128.9 762.2L129.4 762.1L129.9 762.0L130.4 761.8L130.9 761.7L131.4 761.5L131.9 761.4L132.4 761.2L132.9 761.1L133.4 760.9L133.9 760.8L134.4 760.7L134.9 760.5L135.4 760.3L135.9 760.2L136.4 760.0L136.9 759.9L137.4 759.7L137.9 759.6L138.4 759.4L138.9 759.2L139.4 759.1L139.9 758.9L140.4 758.7L140.9 758.6L141.4 758.4L141.9 758.2L142.4 758.1L142.9 757.9L143.4 757.7L143.9 757.5L144.4 757.3L144.9 757.2L145.4 757.0L145.9 756.8L146.4 756.6L146.9 756.4L147.4 756.2L147.9 756.0L148.4 755.8L148.9 755.7L149.4 755.5L149.9 755.3L150.4 755.1L150.9 754.9L151.4 754.7L151.9 754.5L152.4 754.2L152.9 754.0L153.4 753.8L153.9 753.6L154.4 753.4L154.9 753.2L155.4 753.0L155.9 752.8L156.4 752.5L156.9 752.3L157.4 752.1L157.9 751.9L158.4 751.6L158.9 751.4L159.4 751.2L159.9 750.9L160.4 750.7L160.9 750.5L161.4 750.2L161.9 750.0L162.4 749.8L162.9 749.5L163.4 749.3L163.9 749.0L164.4 748.8L164.9 748.5L165.4 748.3L165.9 748.0L166.4 747.8L166.9 747.5L167.4 747.2L167.9 747.0L168.4 746.7L168.9 746.4L169.4 746.2L169.9 745.9L170.4 745.6L170.9 745.4L171.4 745.1L171.9 744.8L172.4 744.5L172.9 744.2L173.4 744.0L173.9 743.7L174.4 743.4L174.9 743.1L175.4 742.8L175.9 742.5L176.4 742.2L176.9 741.9L177.4 741.6L177.9 741.3L178.4 741.0L178.9 740.7L179.4 740.4L179.9 740.1L180.4 739.7L180.9 739.4L181.4 739.1L181.9 738.8L182.4 738.5L182.9 738.1L183.4 737.8L183.9 737.5L184.4 737.1L184.9 736.8L185.4 736.5L185.9 736.1L186.4 735.8L186.9 735.5L187.4 735.1L187.9 734.8L188.4 734.4L188.9 734.1L189.4 733.7L189.9 733.3L190.4 733.0L190.9 732.6L191.4 732.3L191.9 731.9L192.4 731.5L192.9 731.2L193.4 730.8L193.9 730.4L194.4 730.0L194.9 729.6L195.4 729.3L195.9 728.9L196.4 728.5L196.9 728.1L197.4 727.7L197.9 727.3L198.4 726.9L198.9 726.5L199.4 726.1L199.9 725.7L200.4 725.3L200.9 724.9L201.4 724.5L201.9 724.0L202.4 723.6L202.9 723.2L203.4 722.8L203.9 722.4L204.4 721.9L204.9 721.5L205.4 721.1L205.9 720.6L206.4 720.2L206.9 719.8L207.4 719.3L207.9 718.9L208.4 718.4L208.9 718.0L209.4 717.5L209.9 717.1L210.4 716.6L210.9 716.2L211.4 715.7L211.9 715.2L212.4 714.8L212.9 714.3L213.4 713.9L213.9 713.4L214.4 712.9L214.9 712.5L215.4 712.0L215.9 711.6L216.4 711.1L216.9 710.6L217.4 710.2L217.9 709.7L218.4 709.2L218.9 708.8L219.4 708.3L219.9 707.8L220.4 707.4L220.9 706.9L221.4 706.5L221.9 706.0L222.4 705.5L222.9 705.1L223.4 704.6L223.9 704.2L224.4 703.7L224.9 703.3L225.4 702.8L225.9 702.4L226.4 701.9L226.9 701.5L227.4 701.0L227.9 700.6L228.4 700.2L228.9 699.7L229.4 699.3L229.9 698.9L230.4 698.4L230.9 698.0L231.4 697.6L231.9 697.2L232.4 696.8L232.9 696.3L233.4 695.9L233.9 695.5L234.4 695.1L234.9 694.7L235.4 694.3L235.9 693.9L236.4 693.6L236.9 693.2L237.4 692.8L237.9 692.4L238.4 692.1L238.9 691.7L239.4 691.3L239.9 691.0L240.4 690.6L240.9 690.3L241.4 689.9L241.9 689.6L242.4 689.3L242.9 689.0L243.4 688.6L243.9 688.3L244.4 688.0L244.9 687.7L245.4 687.4L245.9 687.1L246.4 686.8L246.9 686.5L247.4 686.3L247.9 686.0L248.4 685.7L248.9 685.4L249.4 685.2L249.9 684.9L250.4 684.7L250.9 684.4L251.4 684.2L251.9 684.0L252.4 683.7L252.9 683.5L253.4 683.3L253.9 683.1L254.4 682.9L254.9 682.7L255.4 682.5L255.9 682.3L256.4 682.1L256.9 681.9L257.4 681.7L257.9 681.6L258.4 681.4L258.9 681.3L259.4 681.1L259.9 681.0L260.4 680.8L260.9 680.7L261.4 680.6L261.9 680.4L262.4 680.3L262.9 680.2L263.4 680.1L263.9 680.0L264.4 679.9L264.9 679.8L265.4 679.7L265.9 679.7L266.4 679.6L266.9 679.5L267.4 679.5L267.9 679.4L268.4 679.4L268.9 679.3L269.4 679.3L269.9 679.3L270.4 679.2L270.9 679.2L271.4 679.2L271.9 679.2L272.4 679.2L272.9 679.2L273.4 679.2L273.9 679.2L274.4 679.3L274.9 679.3L275.4 679.3L275.9 679.4L276.4 679.4L276.9 679.5L277.4 679.6L277.9 679.6L278.4 679.7L278.9 679.8L279.4 679.9L279.9 680.0L280.4 680.1L280.9 680.2L281.4 680.3L281.9 680.4L282.4 680.6L282.9 680.7L283.4 680.8L283.9 681.0L284.4 681.1L284.9 681.3L285.4 681.5L285.9 681.6L286.4 681.8L286.9 682.0L287.4 682.2L287.9 682.4L288.4 682.5L288.9 682.7L289.4 682.9L289.9 683.2L290.4 683.4L290.9 683.6L291.4 683.8L291.9 684.0L292.4 684.3L292.9 684.5L293.4 684.8L293.9 685.0L294.4 685.2L294.9 685.5L295.4 685.8L295.9 686.0L296.4 686.3L296.9 686.6L297.4 686.8L297.9 687.1L298.4 687.4L298.9 687.7L299.4 688.0L299.9 688.2L300.4 688.5L300.9 688.8L301.4 689.1L301.9 689.4L302.4 689.7L302.9 690.1L303.4 690.4L303.9 690.7L304.4 691.0L304.9 691.3L305.4 691.6L305.9 692.0L306.4 692.3L306.9 692.6L307.4 692.9L307.9 693.3L308.4 693.6L308.9 693.9L309.4 694.3L309.9 694.6L310.4 694.9L310.9 695.3L311.4 695.6L311.9 696.0L312.4 696.3L312.9 696.7L313.4 697.0L313.9 697.4L314.4 697.7L314.9 698.1L315.4 698.4L315.9 698.8L316.4 699.1L316.9 699.5L317.4 699.8L317.9 700.2L318.4 700.5L318.9 700.9L319.4 701.2L319.9 701.6L320.4 702.0L320.9 702.3L321.4 702.7L321.9 703.0L322.4 703.4L322.9 703.7L323.4 704.1L323.9 704.4L324.4 704.8L324.9 705.1L325.4 705.5L325.9 705.8L326.4 706.2L326.9 706.5L327.4 706.9L327.9 707.2L328.4 707.5L328.9 707.9L329.4 708.2L329.9 708.5L330.4 708.9L330.9 709.2L331.4 709.5L331.9 709.9L332.4 710.2L332.9 710.5L333.4 710.8L333.9 711.1L334.4 711.4L334.9 711.8L335.4 712.1L335.9 712.4L336.4 712.7L336.9 713.0L337.4 713.3L337.9 713.6L338.4 713.8L338.9 714.1L339.4 714.4L339.9 714.7L340.4 715.0L340.9 715.2L341.4 715.5L341.9 715.8L342.4 716.0L342.9 716.3L343.4 716.5L343.9 716.8L344.4 717.0L344.9 717.2L345.4 717.5L345.9 717.7L346.4 717.9L346.9 718.1L347.4 718.3L347.9 718.5" fill="none" stroke="#ff0000" stroke-width="1.6" stroke-linejoin="round" stroke-linecap="round"/>
<path d="M36.4 752.4L36.9 752.2L37.4 751.9L37.9 751.7L38.4 751.4L38.9 751.1L39.4 750.8L39.9 750.5L40.4 750.2L40.9 749.9L41.4 749.6L41.9 749.3L42.4 749.0L42.9 748.7L43.4 748.3L43.9 748.0L44.4 747.7L44.9 747.3L45.4 746.9L45.9 746.6L46.4 746.2L46.9 745.8L47.4 745.5L47.9 745.1L48.4 744.7L48.9 744.3L49.4 743.9L49.9 743.5L50.4 743.1L50.9 742.6L51.4 742.2L51.9 741.8L52.4 741.4L52.9 740.9L53.4 740.5L53.9 740.0L54.4 739.6L54.9 739.1L55.4 738.7L55.9 738.2L56.4 737.7L56.9 737.2L57.4 736.8L57.9 736.3L58.4 735.8L58.9 735.3L59.4 734.8L59.9 734.3L60.4 733.8L60.9 733.3L61.4 732.8L61.9 732.3L62.4 731.8L62.9 731.2L63.4 730.7L63.9 730.2L64.4 729.7L64.9 729.1L65.4 728.6L65.9 728.1L66.4 727.5L66.9 727.0L67.4 726.4L67.9 725.9L68.4 725.3L68.9 724.8L69.4 724.2L69.9 723.7L70.4 723.1L70.9 722.5L71.4 722.0L71.9 721.4L72.4 720.8L72.9 720.3L73.4 719.7L73.9 719.1L74.4 718.6L74.9 718.0L75.4 717.4L75.9 716.8L76.4 716.2L76.9 715.7L77.4 715.1L77.9 714.5L78.4 713.9L78.9 713.3L79.4 712.7L79.9 712.1L80.4 711.6L80.9 711.0L81.4 710.4L81.9 709.8L82.4 709.2L82.9 708.6L83.4 708.0L83.9 707.4L84.4 706.8L84.9 706.2L85.4 705.7L85.9 705.1L86.4 704.5L86.9 703.9L87.4 703.3L87.9 702.7L88.4 702.1L88.9 701.5L89.4 700.9L89.9 700.4L90.4 699.8L90.9 699.2L91.4 698.6L91.9 698.0L92.4 697.4L92.9 696.9L93.4 696.3L93.9 695.7L94.4 695.1L94.9 694.5L95.4 694.0L95.9 693.4L96.4 692.8L96.9 692.3L97.4 691.7L97.9 691.1L98.4 690.6L98.9 690.0L99.4 689.4L99.9 688.9L100.4 688.3L100.9 687.8L101.4 687.2L101.9 686.7L102.4 686.1L102.9 685.6L103.4 685.1L103.9 684.5L104.4 684.0L104.9 683.5L105.4 682.9L105.9 682.4L106.4 681.9L106.9 681.4L107.4 680.9L107.9 680.4L108.4 679.9L108.9 679.3L109.4 678.8L109.9 678.4L110.4 677.9L110.9 677.4L111.4 676.9L111.9 676.4L112.4 675.9L112.9 675.5L113.4 675.0L113.9 674.5L114.4 674.1L114.9 673.6L115.4 673.2L115.9 672.7L116.4 672.3L116.9 671.9L117.4 671.4L117.9 671.0L118.4 670.6L118.9 670.2L119.4 669.8L119.9 669.4L120.4 669.0L120.9 668.6L121.4 668.2L121.9 667.8L122.4 667.4L122.9 667.1L123.4 666.7L123.9 666.3L124.4 666.0L124.9 665.6L125.4 665.3L125.9 665.0L126.4 664.6L126.9 664.3L127.4 664.0L127.9 663.7L128.4 663.4L128.9 663.1L129.4 662.8L129.9 662.5L130.4 662.2L130.9 662.0L131.4 661.7L131.9 661.4L132.4 661.2L132.9 661.0L133.4 660.7L133.9 660.5L134.4 660.3L134.9 660.1L135.4 659.9L135.9 659.7L136.4 659.5L136.9 659.3L137.4 659.1L137.9 659.0L138.4 658.8L138.9 658.7L139.4 658.5L139.9 658.4L140.4 658.3L140.9 658.2L141.4 658.1L141.9 658.0L142.4 657.9L142.9 657.8L143.4 657.7L143.9 657.7L144.4 657.6L144.9 657.6L145.4 657.5L145.9 657.5L146.4 657.5L146.9 657.5L147.4 657.5L147.9 657.5L148.4 657.5L148.9 657.6L149.4 657.6L149.9 657.6L150.4 657.7L150.9 657.8L151.4 657.8L151.9 657.9L152.4 658.0L152.9 658.1L153.4 658.2L153.9 658.3L154.4 658.5L154.9 658.6L155.4 658.8L155.9 658.9L156.4 659.1L156.9 659.2L157.4 659.4L157.9 659.6L158.4 659.8L158.9 660.0L159.4 660.2L159.9 660.4L160.4 660.6L160.9 660.8L161.4 661.0L161.9 661.3L162.4 661.5L162.9 661.8L163.4 662.0L163.9 662.3L164.4 662.5L164.9 662.8L165.4 663.1L165.9 663.4L166.4 663.7L166.9 664.0L167.4 664.3L167.9 664.6L168.4 664.9L168.9 665.2L169.4 665.5L169.9 665.9L170.4 666.2L170.9 666.5L171.4 666.9L171.9 667.2L172.4 667.6L172.9 667.9L173.4 668.3L173.9 668.6L174.4 669.0L174.9 669.4L175.4 669.7L175.9 670.1L176.4 670.5L176.9 670.9L177.4 671.3L177.9 671.7L178.4 672.1L178.9 672.5L179.4 672.9L179.9 673.3L180.4 673.7L180.9 674.1L181.4 674.5L181.9 674.9L182.4 675.3L182.9 675.8L183.4 676.2L183.9 676.6L184.4 677.0L184.9 677.5L185.4 677.9L185.9 678.3L186.4 678.7L186.9 679.2L187.4 679.6L187.9 680.1L188.4 680.5L188.9 680.9L189.4 681.4L189.9 681.8L190.4 682.2L190.9 682.7L191.4 683.1L191.9 683.6L192.4 684.0L192.9 684.5L193.4 684.9L193.9 685.3L194.4 685.8L194.9 686.2L195.4 686.7L195.9 687.1L196.4 687.6L196.9 688.0L197.4 688.4L197.9 688.9L198.4 689.3L198.9 689.8L199.4 690.2L199.9 690.7L200.4 691.1L200.9 691.5L201.4 692.0L201.9 692.4L202.4 692.9L202.9 693.3L203.4 693.7L203.9 694.2L204.4 694.6L204.9 695.0L205.4 695.5L205.9 695.9L206.4 696.3L206.9 696.8L207.4 697.2L207.9 697.6L208.4 698.1L208.9 698.5L209.4 698.9L209.9 699.3L210.4 699.8L210.9 700.2L211.4 700.6L211.9 701.0L212.4 701.5L212.9 701.9L213.4 702.3L213.9 702.7L214.4 703.1L214.9 703.5L215.4 704.0L215.9 704.4L216.4 704.8L216.9 705.2L217.4 705.6L217.9 706.0L218.4 706.4L218.9 706.8L219.4 707.2L219.9 707.6L220.4 708.0L220.9 708.4L221.4 708.8L221.9 709.2L222.4 709.6L222.9 709.9L223.4 710.3L223.9 710.7L224.4 711.1L224.9 711.5L225.4 711.9L225.9 712.2L226.4 712.6L226.9 713.0L227.4 713.3L227.9 713.7L228.4 714.1L228.9 714.4L229.4 714.8L229.9 715.1L230.4 715.5L230.9 715.8L231.4 716.2L231.9 716.5L232.4 716.9L232.9 717.2L233.4 717.5L233.9 717.9L234.4 718.2L234.9 718.5L235.4 718.9L235.9 719.2L236.4 719.5L236.9 719.8L237.4 720.1L237.9 720.5L238.4 720.8L238.9 721.1L239.4 721.4L239.9 721.7L240.4 722.0L240.9 722.3L241.4 722.5L241.9 722.8L242.4 723.1L242.9 723.4L243.4 723.7L243.9 723.9L244.4 724.2L244.9 724.5L245.4 724.7L245.9 725.0L246.4 725.3L246.9 725.5L247.4 725.8L247.9 726.0L248.4 726.3L248.9 726.5L249.4 726.8L249.9 727.0L250.4 727.2L250.9 727.5L251.4 727.7L251.9 727.9L252.4 728.1L252.9 728.4L253.4 728.6L253.9 728.8L254.4 729.0L254.9 729.2L255.4 729.4L255.9 729.6L256.4 729.8L256.9 730.0L257.4 730.2L257.9 730.4L258.4 730.6L258.9 730.8L259.4 731.0L259.9 731.2L260.4 731.4L260.9 731.6L261.4 731.7L261.9 731.9L262.4 732.1L262.9 732.3L263.4 732.4L263.9 732.6L264.4 732.7L264.9 732.9L265.4 733.1L265.9 733.2L266.4 733.4L266.9 733.5L267.4 733.7L267.9 733.8L268.4 734.0L268.9 734.1L269.4 734.3L269.9 734.4L270.4 734.5L270.9 734.7L271.4 734.8L271.9 734.9L272.4 735.1L272.9 735.2L273.4 735.3L273.9 735.4L274.4 735.5L274.9 735.7L275.4 735.8L275.9 735.9L276.4 736.0L276.9 736.1L277.4 736.2L277.9 736.3L278.4 736.4L278.9 736.5L279.4 736.6L279.9 736.7L280.4 736.8L280.9 736.9L281.4 737.0L281.9 737.1L282.4 737.2L282.9 737.3L283.4 737.4L283.9 737.4L284.4 737.5L284.9 737.6L285.4 737.7L285.9 737.7L286.4 737.8L286.9 737.9L287.4 738.0L287.9 738.0L288.4 738.1L288.9 738.2L289.4 738.2L289.9 738.3L290.4 738.4L290.9 738.4L291.4 738.5L291.9 738.5L292.4 738.6L292.9 738.6L293.4 738.7L293.9 738.8L294.4 738.8L294.9 738.9L295.4 738.9L295.9 738.9L296.4 739.0L296.9 739.0L297.4 739.1L297.9 739.1L298.4 739.2L298.9 739.2L299.4 739.2L299.9 739.3L300.4 739.3L300.9 739.3L301.4 739.4L301.9 739.4L302.4 739.4L302.9 739.5L303.4 739.5L303.9 739.5L304.4 739.5L304.9 739.6L305.4 739.6L305.9 739.6L306.4 739.6L306.9 739.6L307.4 739.7L307.9 739.7L308.4 739.7L308.9 739.7L309.4 739.7L309.9 739.7L310.4 739.8L310.9 739.8L311.4 739.8L311.9 739.8L312.4 739.8L312.9 739.8L313.4 739.8L313.9 739.8L314.4 739.8L314.9 739.8L315.4 739.8L315.9 739.9L316.4 739.9L316.9 739.9L317.4 739.9L317.9 739.9L318.4 739.9L318.9 739.9L319.4 739.9L319.9 739.9L320.4 739.9L320.9 739.9L321.4 739.9L321.9 739.9L322.4 739.9L322.9 739.9L323.4 739.9L323.9 739.8L324.4 739.8L324.9 739.8L325.4 739.8L325.9 739.8L326.4 739.8L326.9 739.8L327.4 739.8L327.9 739.8L328.4 739.8L328.9 739.8L329.4 739.8L329.9 739.8L330.4 739.8L330.9 739.7L331.4 739.7L331.9 739.7L332.4 739.7L332.9 739.7L333.4 739.7L333.9 739.7L334.4 739.7L334.9 739.7L335.4 739.7L335.9 739.6L336.4 739.6L336.9 739.6L337.4 739.6L337.9 739.6L338.4 739.6L338.9 739.6L339.4 739.6L339.9 739.6L340.4 739.5L340.9 739.5L341.4 739.5L341.9 739.5L342.4 739.5L342.9 739.5L343.4 739.5L343.9 739.5L344.4 739.5L344.9 739.5L345.4 739.4L345.9 739.4L346.4 739.4L346.9 739.4L347.4 739.4L347.9 739.4" fill="none" stroke="#0000ff" stroke-width="1.6" stroke-linejoin="round" stroke-linecap="round"/>
<path d="M36.4 774.1L36.9 774.1L37.4 774.0L37.9 774.0L38.4 774.0L38.9 773.9L39.4 773.9L39.9 773.8L40.4 773.8L40.9 773.8L41.4 773.7L41.9 773.7L42.4 773.6L42.9 773.6L43.4 773.6L43.9 773.5L44.4 773.5L44.9 773.4L45.4 773.4L45.9 773.3L46.4 773.3L46.9 773.3L47.4 773.2L47.9 773.2L48.4 773.1L48.9 773.1L49.4 773.0L49.9 773.0L50.4 773.0L50.9 772.9L51.4 772.9L51.9 772.8L52.4 772.8L52.9 772.7L53.4 772.7L53.9 772.6L54.4 772.6L54.9 772.6L55.4 772.5L55.9 772.5L56.4 772.4L56.9 772.4L57.4 772.3L57.9 772.3L58.4 772.2L58.9 772.2L59.4 772.1L59.9 772.1L60.4 772.0L60.9 772.0L61.4 772.0L61.9 771.9L62.4 771.9L62.9 771.8L63.4 771.8L63.9 771.7L64.4 771.7L64.9 771.6L65.4 771.6L65.9 771.5L66.4 771.5L66.9 771.4L67.4 771.4L67.9 771.3L68.4 771.3L68.9 771.2L69.4 771.2L69.9 771.1L70.4 771.1L70.9 771.0L71.4 771.0L71.9 770.9L72.4 770.9L72.9 770.8L73.4 770.8L73.9 770.7L74.4 770.7L74.9 770.6L75.4 770.5L75.9 770.5L76.4 770.4L76.9 770.4L77.4 770.3L77.9 770.3L78.4 770.2L78.9 770.2L79.4 770.1L79.9 770.1L80.4 770.0L80.9 770.0L81.4 769.9L81.9 769.9L82.4 769.8L82.9 769.7L83.4 769.7L83.9 769.6L84.4 769.6L84.9 769.5L85.4 769.5L85.9 769.4L86.4 769.4L86.9 769.3L87.4 769.2L87.9 769.2L88.4 769.1L88.9 769.1L89.4 769.0L89.9 769.0L90.4 768.9L90.9 768.8L91.4 768.8L91.9 768.7L92.4 768.7L92.9 768.6L93.4 768.6L93.9 768.5L94.4 768.4L94.9 768.4L95.4 768.3L95.9 768.3L96.4 768.2L96.9 768.2L97.4 768.1L97.9 768.0L98.4 768.0L98.9 767.9L99.4 767.9L99.9 767.8L100.4 767.7L100.9 767.7L101.4 767.6L101.9 767.6L102.4 767.5L102.9 767.4L103.4 767.4L103.9 767.3L104.4 767.3L104.9 767.2L105.4 767.1L105.9 767.1L106.4 767.0L106.9 767.0L107.4 766.9L107.9 766.8L108.4 766.8L108.9 766.7L109.4 766.7L109.9 766.6L110.4 766.5L110.9 766.5L111.4 766.4L111.9 766.4L112.4 766.3L112.9 766.2L113.4 766.2L113.9 766.1L114.4 766.0L114.9 766.0L115.4 765.9L115.9 765.9L116.4 765.8L116.9 765.7L117.4 765.7L117.9 765.6L118.4 765.5L118.9 765.5L119.4 765.4L119.9 765.3L120.4 765.3L120.9 765.2L121.4 765.2L121.9 765.1L122.4 765.0L122.9 765.0L123.4 764.9L123.9 764.8L124.4 764.8L124.9 764.7L125.4 764.6L125.9 764.6L126.4 764.5L126.9 764.5L127.4 764.4L127.9 764.3L128.4 764.3L128.9 764.2L129.4 764.1L129.9 764.1L130.4 764.0L130.9 763.9L131.4 763.9L131.9 763.8L132.4 763.7L132.9 763.7L133.4 763.6L133.9 763.5L134.4 763.5L134.9 763.4L135.4 763.3L135.9 763.3L136.4 763.2L136.9 763.2L137.4 763.1L137.9 763.0L138.4 763.0L138.9 762.9L139.4 762.8L139.9 762.8L140.4 762.7L140.9 762.6L141.4 762.6L141.9 762.5L142.4 762.4L142.9 762.4L143.4 762.3L143.9 762.2L144.4 762.2L144.9 762.1L145.4 762.0L145.9 762.0L146.4 761.9L146.9 761.8L147.4 761.8L147.9 761.7L148.4 761.6L148.9 761.6L149.4 761.5L149.9 761.4L150.4 761.4L150.9 761.3L151.4 761.2L151.9 761.2L152.4 761.1L152.9 761.0L153.4 761.0L153.9 760.9L154.4 760.8L154.9 760.7L155.4 760.7L155.9 760.6L156.4 760.5L156.9 760.5L157.4 760.4L157.9 760.3L158.4 760.3L158.9 760.2L159.4 760.1L159.9 760.1L160.4 760.0L160.9 759.9L161.4 759.9L161.9 759.8L162.4 759.7L162.9 759.7L163.4 759.6L163.9 759.5L164.4 759.5L164.9 759.4L165.4 759.3L165.9 759.3L166.4 759.2L166.9 759.1L167.4 759.1L167.9 759.0L168.4 758.9L168.9 758.8L169.4 758.8L169.9 758.7L170.4 758.6L170.9 758.6L171.4 758.5L171.9 758.4L172.4 758.4L172.9 758.3L173.4 758.2L173.9 758.2L174.4 758.1L174.9 758.0L175.4 758.0L175.9 757.9L176.4 757.8L176.9 757.8L177.4 757.7L177.9 757.6L178.4 757.5L178.9 757.5L179.4 757.4L179.9 757.3L180.4 757.3L180.9 757.2L181.4 757.1L181.9 757.1L182.4 757.0L182.9 756.9L183.4 756.9L183.9 756.8L184.4 756.7L184.9 756.7L185.4 756.6L185.9 756.5L186.4 756.5L186.9 756.4L187.4 756.3L187.9 756.3L188.4 756.2L188.9 756.1L189.4 756.0L189.9 756.0L190.4 755.9L190.9 755.8L191.4 755.8L191.9 755.7L192.4 755.6L192.9 755.6L193.4 755.5L193.9 755.4L194.4 755.4L194.9 755.3L195.4 755.2L195.9 755.2L196.4 755.1L196.9 755.0L197.4 755.0L197.9 754.9L198.4 754.8L198.9 754.8L199.4 754.7L199.9 754.6L200.4 754.6L200.9 754.5L201.4 754.4L201.9 754.4L202.4 754.3L202.9 754.2L203.4 754.2L203.9 754.1L204.4 754.0L204.9 753.9L205.4 753.9L205.9 753.8L206.4 753.7L206.9 753.7L207.4 753.6L207.9 753.5L208.4 753.5L208.9 753.4L209.4 753.3L209.9 753.3L210.4 753.2L210.9 753.1L211.4 753.1L211.9 753.0L212.4 752.9L212.9 752.9L213.4 752.8L213.9 752.7L214.4 752.7L214.9 752.6L215.4 752.6L215.9 752.5L216.4 752.4L216.9 752.4L217.4 752.3L217.9 752.2L218.4 752.2L218.9 752.1L219.4 752.0L219.9 752.0L220.4 751.9L220.9 751.8L221.4 751.8L221.9 751.7L222.4 751.6L222.9 751.6L223.4 751.5L223.9 751.4L224.4 751.4L224.9 751.3L225.4 751.2L225.9 751.2L226.4 751.1L226.9 751.0L227.4 751.0L227.9 750.9L228.4 750.9L228.9 750.8L229.4 750.7L229.9 750.7L230.4 750.6L230.9 750.5L231.4 750.5L231.9 750.4L232.4 750.3L232.9 750.3L233.4 750.2L233.9 750.2L234.4 750.1L234.9 750.0L235.4 750.0L235.9 749.9L236.4 749.8L236.9 749.8L237.4 749.7L237.9 749.6L238.4 749.6L238.9 749.5L239.4 749.5L239.9 749.4L240.4 749.3L240.9 749.3L241.4 749.2L241.9 749.2L242.4 749.1L242.9 749.0L243.4 749.0L243.9 748.9L244.4 748.8L244.9 748.8L245.4 748.7L245.9 748.7L246.4 748.6L246.9 748.5L247.4 748.5L247.9 748.4L248.4 748.4L248.9 748.3L249.4 748.2L249.9 748.2L250.4 748.1L250.9 748.1L251.4 748.0L251.9 747.9L252.4 747.9L252.9 747.8L253.4 747.8L253.9 747.7L254.4 747.6L254.9 747.6L255.4 747.5L255.9 747.5L256.4 747.4L256.9 747.3L257.4 747.3L257.9 747.2L258.4 747.2L258.9 747.1L259.4 747.1L259.9 747.0L260.4 746.9L260.9 746.9L261.4 746.8L261.9 746.8L262.4 746.7L262.9 746.6L263.4 746.6L263.9 746.5L264.4 746.5L264.9 746.4L265.4 746.4L265.9 746.3L266.4 746.3L266.9 746.2L267.4 746.1L267.9 746.1L268.4 746.0L268.9 746.0L269.4 745.9L269.9 745.9L270.4 745.8L270.9 745.8L271.4 745.7L271.9 745.6L272.4 745.6L272.9 745.5L273.4 745.5L273.9 745.4L274.4 745.4L274.9 745.3L275.4 745.3L275.9 745.2L276.4 745.2L276.9 745.1L277.4 745.1L277.9 745.0L278.4 744.9L278.9 744.9L279.4 744.8L279.9 744.8L280.4 744.7L280.9 744.7L281.4 744.6L281.9 744.6L282.4 744.5L282.9 744.5L283.4 744.4L283.9 744.4L284.4 744.3L284.9 744.3L285.4 744.2L285.9 744.2L286.4 744.1L286.9 744.1L287.4 744.0L287.9 744.0L288.4 743.9L288.9 743.9L289.4 743.8L289.9 743.8L290.4 743.7L290.9 743.7L291.4 743.6L291.9 743.6L292.4 743.5L292.9 743.5L293.4 743.4L293.9 743.4L294.4 743.3L294.9 743.3L295.4 743.3L295.9 743.2L296.4 743.2L296.9 743.1L297.4 743.1L297.9 743.0L298.4 743.0L298.9 742.9L299.4 742.9L299.9 742.8L300.4 742.8L300.9 742.7L301.4 742.7L301.9 742.7L302.4 742.6L302.9 742.6L303.4 742.5L303.9 742.5L304.4 742.4L304.9 742.4L305.4 742.4L305.9 742.3L306.4 742.3L306.9 742.2L307.4 742.2L307.9 742.1L308.4 742.1L308.9 742.1L309.4 742.0L309.9 742.0L310.4 741.9L310.9 741.9L311.4 741.8L311.9 741.8L312.4 741.8L312.9 741.7L313.4 741.7L313.9 741.6L314.4 741.6L314.9 741.6L315.4 741.5L315.9 741.5L316.4 741.5L316.9 741.4L317.4 741.4L317.9 741.3L318.4 741.3L318.9 741.3L319.4 741.2L319.9 741.2L320.4 741.2L320.9 741.1L321.4 741.1L321.9 741.0L322.4 741.0L322.9 741.0L323.4 740.9L323.9 740.9L324.4 740.9L324.9 740.8L325.4 740.8L325.9 740.8L326.4 740.7L326.9 740.7L327.4 740.7L327.9 740.6L328.4 740.6L328.9 740.6L329.4 740.5L329.9 740.5L330.4 740.5L330.9 740.4L331.4 740.4L331.9 740.4L332.4 740.3L332.9 740.3L333.4 740.3L333.9 740.2L334.4 740.2L334.9 740.2L335.4 740.1L335.9 740.1L336.4 740.1L336.9 740.1L337.4 740.0L337.9 740.0L338.4 740.0L338.9 739.9L339.4 739.9L339.9 739.9L340.4 739.9L340.9 739.8L341.4 739.8L341.9 739.8L342.4 739.8L342.9 739.7L343.4 739.7L343.9 739.7L344.4 739.6L344.9 739.6L345.4 739.6L345.9 739.6L346.4 739.5L346.9 739.5L347.4 739.5L347.9 739.5" fill="none" stroke="#ff00ff" stroke-width="1.6" stroke-linejoin="round" stroke-linecap="round"/>
<path d="M36.4 752.5L36.9 752.2L37.4 751.9L37.9 751.6L38.4 751.3L38.9 751.0L39.4 750.6L39.9 750.3L40.4 749.9L40.9 749.6L41.4 749.3L41.9 748.9L42.4 748.5L42.9 748.2L43.4 747.8L43.9 747.4L44.4 747.1L44.9 746.7L45.4 746.3L45.9 745.9L46.4 745.5L46.9 745.1L47.4 744.7L47.9 744.3L48.4 743.9L48.9 743.5L49.4 743.1L49.9 742.6L50.4 742.2L50.9 741.8L51.4 741.3L51.9 740.9L52.4 740.5L52.9 740.0L53.4 739.6L53.9 739.1L54.4 738.6L54.9 738.2L55.4 737.7L55.9 737.3L56.4 736.8L56.9 736.3L57.4 735.8L57.9 735.4L58.4 734.9L58.9 734.4L59.4 733.9L59.9 733.4L60.4 732.9L60.9 732.4L61.4 731.9L61.9 731.4L62.4 730.9L62.9 730.4L63.4 729.9L63.9 729.4L64.4 728.9L64.9 728.3L65.4 727.8L65.9 727.3L66.4 726.8L66.9 726.2L67.4 725.7L67.9 725.2L68.4 724.6L68.9 724.1L69.4 723.6L69.9 723.0L70.4 722.5L70.9 721.9L71.4 721.4L71.9 720.8L72.4 720.3L72.9 719.7L73.4 719.2L73.9 718.6L74.4 718.1L74.9 717.5L75.4 717.0L75.9 716.4L76.4 715.8L76.9 715.3L77.4 714.7L77.9 714.1L78.4 713.6L78.9 713.0L79.4 712.4L79.9 711.9L80.4 711.3L80.9 710.7L81.4 710.2L81.9 709.6L82.4 709.0L82.9 708.4L83.4 707.9L83.9 707.3L84.4 706.7L84.9 706.1L85.4 705.6L85.9 705.0L86.4 704.4L86.9 703.8L87.4 703.2L87.9 702.7L88.4 702.1L88.9 701.5L89.4 700.9L89.9 700.4L90.4 699.8L90.9 699.2L91.4 698.6L91.9 698.0L92.4 697.5L92.9 696.9L93.4 696.3L93.9 695.7L94.4 695.2L94.9 694.6L95.4 694.0L95.9 693.4L96.4 692.9L96.9 692.3L97.4 691.7L97.9 691.1L98.4 690.6L98.9 690.0L99.4 689.4L99.9 688.9L100.4 688.3L100.9 687.7L101.4 687.2L101.9 686.6L102.4 686.0L102.9 685.5L103.4 684.9L103.9 684.4L104.4 683.8L104.9 683.2L105.4 682.7L105.9 682.1L106.4 681.6L106.9 681.0L107.4 680.5L107.9 679.9L108.4 679.4L108.9 678.9L109.4 678.3L109.9 677.8L110.4 677.2L110.9 676.7L111.4 676.2L111.9 675.7L112.4 675.1L112.9 674.6L113.4 674.1L113.9 673.6L114.4 673.0L114.9 672.5L115.4 672.0L115.9 671.5L116.4 671.0L116.9 670.5L117.4 670.0L117.9 669.5L118.4 669.0L118.9 668.5L119.4 668.0L119.9 667.5L120.4 667.1L120.9 666.6L121.4 666.1L121.9 665.6L122.4 665.2L122.9 664.7L123.4 664.3L123.9 663.8L124.4 663.4L124.9 662.9L125.4 662.5L125.9 662.1L126.4 661.6L126.9 661.2L127.4 660.8L127.9 660.4L128.4 660.0L128.9 659.6L129.4 659.2L129.9 658.8L130.4 658.4L130.9 658.1L131.4 657.7L131.9 657.3L132.4 657.0L132.9 656.7L133.4 656.3L133.9 656.0L134.4 655.7L134.9 655.4L135.4 655.1L135.9 654.8L136.4 654.5L136.9 654.2L137.4 653.9L137.9 653.6L138.4 653.4L138.9 653.1L139.4 652.9L139.9 652.7L140.4 652.5L140.9 652.3L141.4 652.0L141.9 651.9L142.4 651.7L142.9 651.5L143.4 651.3L143.9 651.2L144.4 651.1L144.9 650.9L145.4 650.8L145.9 650.7L146.4 650.6L146.9 650.5L147.4 650.4L147.9 650.3L148.4 650.2L148.9 650.2L149.4 650.1L149.9 650.1L150.4 650.1L150.9 650.0L151.4 650.0L151.9 650.0L152.4 650.0L152.9 650.0L153.4 650.0L153.9 650.0L154.4 650.0L154.9 650.0L155.4 650.1L155.9 650.1L156.4 650.2L156.9 650.2L157.4 650.3L157.9 650.3L158.4 650.4L158.9 650.5L159.4 650.5L159.9 650.6L160.4 650.7L160.9 650.8L161.4 650.9L161.9 651.0L162.4 651.1L162.9 651.2L163.4 651.3L163.9 651.4L164.4 651.5L164.9 651.7L165.4 651.8L165.9 651.9L166.4 652.0L166.9 652.2L167.4 652.3L167.9 652.4L168.4 652.6L168.9 652.7L169.4 652.9L169.9 653.0L170.4 653.1L170.9 653.3L171.4 653.4L171.9 653.6L172.4 653.7L172.9 653.9L173.4 654.0L173.9 654.2L174.4 654.3L174.9 654.5L175.4 654.6L175.9 654.8L176.4 654.9L176.9 655.1L177.4 655.2L177.9 655.4L178.4 655.5L178.9 655.6L179.4 655.8L179.9 655.9L180.4 656.1L180.9 656.2L181.4 656.3L181.9 656.5L182.4 656.6L182.9 656.7L183.4 656.9L183.9 657.0L184.4 657.1L184.9 657.2L185.4 657.4L185.9 657.5L186.4 657.6L186.9 657.7L187.4 657.8L187.9 658.0L188.4 658.1L188.9 658.2L189.4 658.3L189.9 658.4L190.4 658.5L190.9 658.6L191.4 658.7L191.9 658.8L192.4 658.9L192.9 659.1L193.4 659.2L193.9 659.3L194.4 659.4L194.9 659.5L195.4 659.5L195.9 659.6L196.4 659.7L196.9 659.8L197.4 659.9L197.9 660.0L198.4 660.1L198.9 660.2L199.4 660.3L199.9 660.4L200.4 660.4L200.9 660.5L201.4 660.6L201.9 660.7L202.4 660.8L202.9 660.8L203.4 660.9L203.9 661.0L204.4 661.1L204.9 661.1L205.4 661.2L205.9 661.3L206.4 661.4L206.9 661.4L207.4 661.5L207.9 661.6L208.4 661.6L208.9 661.7L209.4 661.7L209.9 661.8L210.4 661.9L210.9 661.9L211.4 662.0L211.9 662.0L212.4 662.1L212.9 662.1L213.4 662.2L213.9 662.3L214.4 662.3L214.9 662.4L215.4 662.4L215.9 662.4L216.4 662.5L216.9 662.5L217.4 662.6L217.9 662.6L218.4 662.7L218.9 662.7L219.4 662.7L219.9 662.8L220.4 662.8L220.9 662.9L221.4 662.9L221.9 662.9L222.4 663.0L222.9 663.0L223.4 663.0L223.9 663.1L224.4 663.1L224.9 663.1L225.4 663.2L225.9 663.2L226.4 663.2L226.9 663.3L227.4 663.3L227.9 663.3L228.4 663.3L228.9 663.4L229.4 663.4L229.9 663.4L230.4 663.4L230.9 663.5L231.4 663.5L231.9 663.5L232.4 663.6L232.9 663.6L233.4 663.6L233.9 663.6L234.4 663.7L234.9 663.7L235.4 663.7L235.9 663.8L236.4 663.8L236.9 663.8L237.4 663.8L237.9 663.9L238.4 663.9L238.9 663.9L239.4 664.0L239.9 664.0L240.4 664.0L240.9 664.1L241.4 664.1L241.9 664.1L242.4 664.2L242.9 664.2L243.4 664.2L243.9 664.3L244.4 664.3L244.9 664.4L245.4 664.4L245.9 664.5L246.4 664.5L246.9 664.5L247.4 664.6L247.9 664.6L248.4 664.7L248.9 664.7L249.4 664.8L249.9 664.8L250.4 664.9L250.9 665.0L251.4 665.0L251.9 665.1L252.4 665.1L252.9 665.2L253.4 665.3L253.9 665.3L254.4 665.4L254.9 665.5L255.4 665.5L255.9 665.6L256.4 665.7L256.9 665.8L257.4 665.8L257.9 665.9L258.4 666.0L258.9 666.1L259.4 666.2L259.9 666.3L260.4 666.4L260.9 666.5L261.4 666.5L261.9 666.6L262.4 666.7L262.9 666.9L263.4 667.0L263.9 667.1L264.4 667.2L264.9 667.3L265.4 667.4L265.9 667.5L266.4 667.7L266.9 667.8L267.4 667.9L267.9 668.0L268.4 668.2L268.9 668.3L269.4 668.4L269.9 668.6L270.4 668.7L270.9 668.9L271.4 669.0L271.9 669.2L272.4 669.3L272.9 669.5L273.4 669.7L273.9 669.8L274.4 670.0L274.9 670.2L275.4 670.4L275.9 670.5L276.4 670.7L276.9 670.9L277.4 671.1L277.9 671.3L278.4 671.5L278.9 671.7L279.4 671.9L279.9 672.1L280.4 672.3L280.9 672.6L281.4 672.8L281.9 673.0L282.4 673.2L282.9 673.5L283.4 673.7L283.9 674.0L284.4 674.2L284.9 674.5L285.4 674.7L285.9 675.0L286.4 675.2L286.9 675.5L287.4 675.8L287.9 676.0L288.4 676.3L288.9 676.6L289.4 676.9L289.9 677.2L290.4 677.5L290.9 677.8L291.4 678.1L291.9 678.4L292.4 678.7L292.9 679.1L293.4 679.4L293.9 679.7L294.4 680.1L294.9 680.4L295.4 680.8L295.9 681.1L296.4 681.5L296.9 681.8L297.4 682.2L297.9 682.6L298.4 683.0L298.9 683.3L299.4 683.7L299.9 684.1L300.4 684.5L300.9 684.9L301.4 685.3L301.9 685.7L302.4 686.1L302.9 686.5L303.4 686.9L303.9 687.3L304.4 687.8L304.9 688.2L305.4 688.6L305.9 689.0L306.4 689.4L306.9 689.9L307.4 690.3L307.9 690.7L308.4 691.1L308.9 691.5L309.4 692.0L309.9 692.4L310.4 692.8L310.9 693.2L311.4 693.6L311.9 694.1L312.4 694.5L312.9 694.9L313.4 695.3L313.9 695.7L314.4 696.1L314.9 696.5L315.4 696.9L315.9 697.3L316.4 697.7L316.9 698.1L317.4 698.5L317.9 698.9L318.4 699.3L318.9 699.6L319.4 700.0L319.9 700.4L320.4 700.8L320.9 701.1L321.4 701.5L321.9 701.8L322.4 702.1L322.9 702.5L323.4 702.8L323.9 703.1L324.4 703.5L324.9 703.8L325.4 704.1L325.9 704.4L326.4 704.7L326.9 705.0L327.4 705.3L327.9 705.6L328.4 705.9L328.9 706.2L329.4 706.5L329.9 706.8L330.4 707.1L330.9 707.3L331.4 707.6L331.9 707.9L332.4 708.2L332.9 708.5L333.4 708.8L333.9 709.0L334.4 709.3L334.9 709.6L335.4 709.9L335.9 710.2L336.4 710.5L336.9 710.8L337.4 711.0L337.9 711.3L338.4 711.6L338.9 711.9L339.4 712.2L339.9 712.5L340.4 712.8L340.9 713.2L341.4 713.5L341.9 713.8L342.4 714.1L342.9 714.4L343.4 714.8L343.9 715.1L344.4 715.5L344.9 715.8L345.4 716.2L345.9 716.5L346.4 716.9L346.9 717.2L347.4 717.6L347.9 718.0" fill="none" stroke="#008000" stroke-width="1.7" stroke-linejoin="round" stroke-linecap="round"/>
<text x="73.4" y="808.0" font-size="10.1" font-weight="bold" text-anchor="middle" font-family="Liberation Serif, serif">167</text>
<text x="147.8" y="808.0" font-size="10.1" font-weight="bold" text-anchor="middle" font-family="Liberation Serif, serif">168</text>
<text x="222.1" y="808.0" font-size="10.1" font-weight="bold" text-anchor="middle" font-family="Liberation Serif, serif">169</text>
<text x="296.5" y="808.0" font-size="10.1" font-weight="bold" text-anchor="middle" font-family="Liberation Serif, serif">170</text>
<path d="M73.4 794.0V790.0M147.8 794.0V790.0M222.1 794.0V790.0M296.5 794.0V790.0M110.6 794.0V791.8M185.0 794.0V791.8M259.3 794.0V791.8M333.7 794.0V791.8" stroke="#000" stroke-width="1.5" fill="none"/>
<text x="30.9" y="797.2" font-size="10.7" font-weight="bold" text-anchor="end" font-family="Liberation Serif, serif">580</text>
<text x="30.9" y="766.3" font-size="10.7" font-weight="bold" text-anchor="end" font-family="Liberation Serif, serif">600</text>
<text x="30.9" y="735.3" font-size="10.7" font-weight="bold" text-anchor="end" font-family="Liberation Serif, serif">620</text>
<text x="30.9" y="704.4" font-size="10.7" font-weight="bold" text-anchor="end" font-family="Liberation Serif, serif">640</text>
<text x="30.9" y="673.4" font-size="10.7" font-weight="bold" text-anchor="end" font-family="Liberation Serif, serif">660</text>
<text x="30.9" y="642.5" font-size="10.7" font-weight="bold" text-anchor="end" font-family="Liberation Serif, serif">680</text>
<text x="30.9" y="611.6" font-size="10.7" font-weight="bold" text-anchor="end" font-family="Liberation Serif, serif">700</text>
<text x="30.9" y="580.6" font-size="10.7" font-weight="bold" text-anchor="end" font-family="Liberation Serif, serif">720</text>
<path d="M36.5 763.1H40.5M36.5 732.1H40.5M36.5 701.2H40.5M36.5 670.2H40.5M36.5 639.3H40.5M36.5 608.4H40.5M36.5 577.4H40.5M36.5 778.5H38.7M36.5 747.6H38.7M36.5 716.6H38.7M36.5 685.7H38.7M36.5 654.8H38.7M36.5 623.8H38.7M36.5 592.9H38.7" stroke="#000" stroke-width="1.5" fill="none"/>
<text x="192.6" y="822.0" font-size="12.9" font-weight="bold" text-anchor="middle" font-family="Liberation Serif, serif">Binding energy(eV)</text>
<text x="10.3" y="682.0" font-size="13.1" font-weight="bold" text-anchor="middle" font-family="Liberation Serif, serif" transform="rotate(-90 10.3 682)">Intensity(a.u.)</text>
<text x="128.6" y="583.8" font-size="12.4" font-weight="bold" text-anchor="middle" font-family="Liberation Serif, serif">S 2p</text>
<rect x="232.3" y="564.3" width="110.3" height="69.9" fill="#fff" stroke="#a0a0a0" stroke-width="1"/>
<path d="M239.1 575.1H257.5" stroke="#000" stroke-width="1.6"/>
<text x="260.2" y="578.4" font-size="9.8" font-weight="bold" text-anchor="start" font-family="Liberation Serif, serif">Experimental data</text>
<path d="M239.1 586.9H257.5" stroke="#ff0000" stroke-width="1.6"/>
<text x="260.2" y="590.2" font-size="9.8" font-weight="bold" text-anchor="start" font-family="Liberation Serif, serif">Al<tspan font-size="6.5" dy="2.3">2</tspan><tspan dy="-2.3">(SO</tspan><tspan font-size="6.5" dy="2.3">4</tspan><tspan dy="-2.3">)</tspan><tspan font-size="6.5" dy="2.3">3</tspan></text>
<path d="M239.1 602.0H257.5" stroke="#0000ff" stroke-width="1.6"/>
<text x="260.2" y="605.3" font-size="9.8" font-weight="bold" text-anchor="start" font-family="Liberation Serif, serif">K<tspan font-size="6.5" dy="2.3">2</tspan><tspan dy="-2.3">SO</tspan><tspan font-size="6.5" dy="2.3">4</tspan></text>
<path d="M239.1 617.4H257.5" stroke="#ff00ff" stroke-width="1.6"/>
<text x="260.2" y="620.7" font-size="9.8" font-weight="bold" text-anchor="start" font-family="Liberation Serif, serif">Background</text>
<path d="M239.1 629.4H257.5" stroke="#008000" stroke-width="1.6"/>
<text x="260.2" y="632.7" font-size="9.8" font-weight="bold" text-anchor="start" font-family="Liberation Serif, serif">Model fit</text>
<text x="191.6" y="848.3" font-size="14.5" font-weight="normal" text-anchor="middle" font-family="Liberation Serif, serif">(c)&#160;&#160;S 2p</text>
</g>
</svg>
</body></html>
